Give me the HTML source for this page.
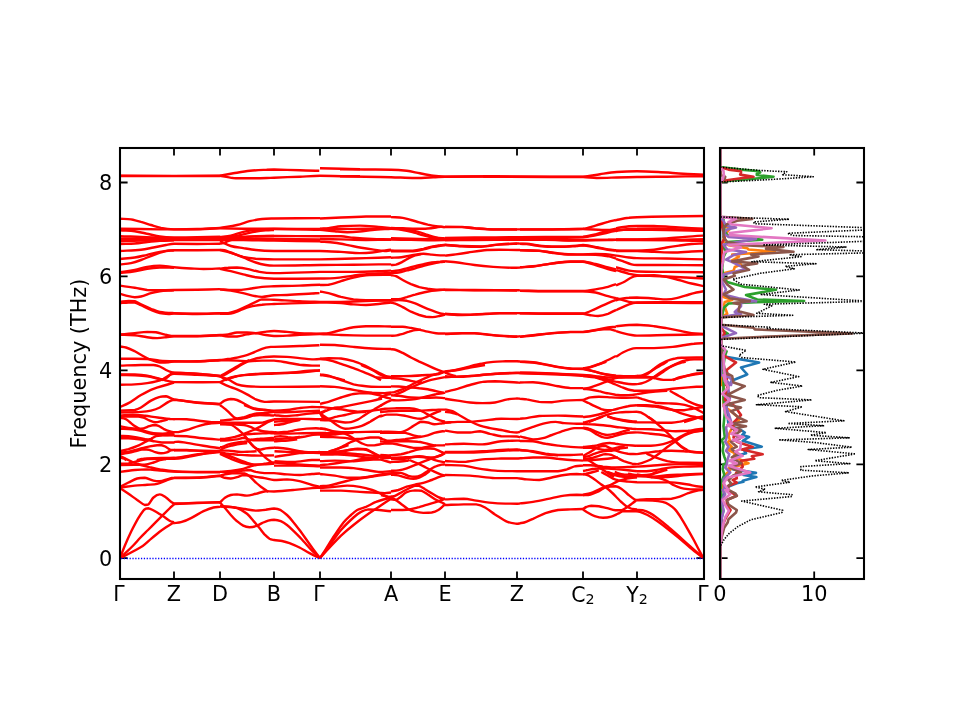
<!DOCTYPE html>
<html lang="en"><head><meta charset="utf-8"><title>Phonon band structure and DOS</title>
<style>html,body{margin:0;padding:0;background:#fff}svg{display:block;will-change:transform}</style></head>
<body>
<svg width="960" height="720" viewBox="0 0 960 720">
<rect width="960" height="720" fill="#fff"/>
<defs><clipPath id="c1"><rect x="120" y="148" width="584" height="431"/></clipPath><clipPath id="c2"><rect x="720" y="148" width="144" height="431"/></clipPath></defs>
<path d="M120 579 v-7.6 M120 148 v7.6 M174 579 v-7.6 M174 148 v7.6 M220 579 v-7.6 M220 148 v7.6 M274 579 v-7.6 M274 148 v7.6 M320 579 v-7.6 M320 148 v7.6 M391 579 v-7.6 M391 148 v7.6 M445 579 v-7.6 M445 148 v7.6 M517 579 v-7.6 M517 148 v7.6 M583 579 v-7.6 M583 148 v7.6 M637 579 v-7.6 M637 148 v7.6 M704 579 v-7.6 M704 148 v7.6 M120 558.2 h7.6 M704 558.2 h-7.6 M720 558.2 h7.6 M864 558.2 h-7.6 M120 464.3 h7.6 M704 464.3 h-7.6 M720 464.3 h7.6 M864 464.3 h-7.6 M120 370.4 h7.6 M704 370.4 h-7.6 M720 370.4 h7.6 M864 370.4 h-7.6 M120 276.4 h7.6 M704 276.4 h-7.6 M720 276.4 h7.6 M864 276.4 h-7.6 M120 182.5 h7.6 M704 182.5 h-7.6 M720 182.5 h7.6 M864 182.5 h-7.6 M720.0 579 v-7.6 M720.0 148 v7.6 M814.2 579 v-7.6 M814.2 148 v7.6" stroke="#000" stroke-width="1.8" fill="none"/>
<g clip-path="url(#c1)" fill="none" stroke="#ff0000" stroke-width="2.4" stroke-linejoin="round" stroke-linecap="butt">
<path d="M120.0 218.8 C123.7 219.0 127.3 218.8 131.0 219.4 C134.3 219.9 137.7 220.9 141.0 221.9 C144.3 222.8 147.7 224.0 151.0 225.0 C154.3 226.0 157.7 227.2 161.0 227.9 C165.3 228.7 169.7 229.2 174.0 229.4 C181.8 229.4 189.5 229.3 197.2 229.0 C204.8 228.8 212.4 228.2 220.0 227.9"/>
<path d="M120.0 228.8 C127.0 228.8 134.0 228.9 141.0 229.0 C147.2 229.1 153.5 229.3 159.8 229.4 C164.5 229.4 169.2 229.4 174.0 229.4 C181.8 229.3 189.5 229.4 197.2 229.2 C204.8 229.1 212.4 228.6 220.0 228.2"/>
<path d="M120.0 230.2 C124.9 230.6 129.8 230.6 134.8 231.2 C138.9 231.8 143.1 232.9 147.2 233.8 C151.4 234.6 155.6 235.9 159.8 236.5 C164.5 237.2 169.2 237.4 174.0 237.5 C181.8 237.5 189.5 237.4 197.2 237.2 C204.8 237.1 212.4 236.9 220.0 236.8"/>
<path d="M120.0 236.2 C127.0 236.5 134.0 236.6 141.0 236.9 C147.2 237.1 153.5 237.5 159.8 237.8 C164.5 238.0 169.2 238.3 174.0 238.4 C181.8 238.4 189.5 238.4 197.2 238.2 C204.8 238.1 212.4 237.9 220.0 237.8"/>
<path d="M120.0 238.8 C127.0 238.8 134.0 238.8 141.0 238.8 C147.2 238.8 153.5 238.9 159.8 239.0 C164.5 239.1 169.2 239.2 174.0 239.2 C181.8 239.2 189.5 239.2 197.2 239.2 C204.8 239.2 212.4 239.1 220.0 239.0"/>
<path d="M120.0 241.2 C127.0 241.0 134.0 240.8 141.0 240.6 C147.2 240.4 153.5 240.1 159.8 240.0 C164.5 240.0 169.2 240.0 174.0 240.0 C181.8 240.0 189.5 240.0 197.2 240.0 C204.8 240.0 212.4 240.0 220.0 240.0"/>
<path d="M120.0 244.0 C124.9 243.8 129.8 243.9 134.8 243.5 C138.9 243.2 143.1 242.5 147.2 242.0 C151.4 241.5 155.6 241.0 159.8 240.8 C164.5 240.5 169.2 240.5 174.0 240.4"/>
<path d="M120.0 251.0 C127.0 250.6 134.0 250.5 141.0 249.8 C145.2 249.3 149.3 248.3 153.5 247.5 C157.7 246.7 161.8 245.8 166.0 245.0 C168.7 244.5 171.3 243.8 174.0 243.8 C181.8 243.8 189.5 244.0 197.2 244.0 C204.8 244.0 212.4 243.8 220.0 243.8"/>
<path d="M120.0 259.0 C124.9 258.5 129.8 258.3 134.8 257.5 C138.9 256.9 143.1 255.7 147.2 254.8 C151.4 253.8 155.6 252.6 159.8 251.9 C164.5 251.1 169.2 250.3 174.0 250.1 C181.8 250.1 189.5 250.2 197.2 250.2 C204.8 250.2 212.4 250.1 220.0 250.0"/>
<path d="M120.0 264.4 C123.7 264.0 127.3 263.9 131.0 263.1 C134.3 262.4 137.7 261.2 141.0 260.0 C145.2 258.5 149.3 256.5 153.5 255.0 C157.7 253.5 161.8 252.2 166.0 251.2 C168.7 250.6 171.3 250.6 174.0 250.2"/>
<path d="M120.0 272.2 C124.9 271.5 129.8 271.0 134.8 270.0 C138.9 269.2 143.1 267.6 147.2 266.9 C151.4 266.1 155.6 265.6 159.8 265.6 C164.5 265.7 169.2 266.8 174.0 267.2 C179.7 267.8 185.3 268.2 191.0 268.5 C195.2 268.7 199.3 269.0 203.5 269.0 C209.0 269.0 214.5 268.7 220.0 268.5"/>
<path d="M120.0 273.1 C124.9 272.5 129.8 272.0 134.8 271.2 C138.9 270.6 143.1 269.4 147.2 268.8 C151.4 268.1 155.6 267.7 159.8 267.5 C164.5 267.5 169.2 267.7 174.0 267.8"/>
<path d="M120.0 285.6 C124.9 286.3 129.8 287.0 134.8 287.8 C138.9 288.4 143.1 289.6 147.2 290.0 C151.4 290.2 155.6 290.2 159.8 290.2 C164.5 290.2 169.2 290.1 174.0 290.0 C181.8 289.9 189.5 289.9 197.2 289.8 C204.8 289.6 212.4 289.3 220.0 289.1"/>
<path d="M120.0 293.8 C122.8 294.6 125.7 295.6 128.5 296.2 C130.6 296.7 132.7 297.2 134.8 297.2 C136.8 297.2 138.9 297.0 141.0 296.5 C144.3 295.7 147.7 294.1 151.0 293.1 C153.9 292.3 156.8 291.6 159.8 291.2 C164.5 290.7 169.2 290.6 174.0 290.2"/>
<path d="M220.0 227.9 C225.7 226.9 231.3 226.3 237.0 225.0 C241.2 224.1 245.3 222.2 249.5 221.2 C253.7 220.2 257.8 219.5 262.0 219.0 C266.0 218.6 270.0 218.6 274.0 218.5 C289.3 218.3 304.7 218.2 320.0 218.1"/>
<path d="M220.0 228.4 C227.8 228.5 235.5 228.7 243.2 228.8 C253.5 228.8 263.8 228.8 274.0 228.8 C289.3 228.8 304.7 228.9 320.0 229.0"/>
<path d="M220.0 236.9 C223.6 236.5 227.2 236.4 230.8 235.6 C234.9 234.7 239.1 232.9 243.2 231.9 C247.4 230.9 251.6 230.1 255.8 229.8 C261.8 229.2 267.9 229.0 274.0 229.0 C289.3 229.0 304.7 229.5 320.0 229.8"/>
<path d="M220.0 237.8 C223.6 237.5 227.2 237.4 230.8 236.9 C234.9 236.3 239.1 235.3 243.2 234.4 C247.4 233.5 251.6 232.2 255.8 231.5 C259.1 230.9 262.4 230.6 265.8 230.4 C268.5 230.1 271.2 230.1 274.0 230.0"/>
<path d="M220.0 238.8 C227.8 238.1 235.5 237.3 243.2 236.9 C253.5 236.4 263.8 236.1 274.0 236.0 C289.3 236.0 304.7 236.2 320.0 236.2"/>
<path d="M220.0 239.4 C227.8 239.2 235.5 239.1 243.2 239.0 C253.5 239.0 263.8 239.0 274.0 239.0 C289.3 239.1 304.7 239.2 320.0 239.4"/>
<path d="M220.0 240.0 C227.8 240.0 235.5 240.0 243.2 240.0 C253.5 240.1 263.8 240.5 274.0 240.6 C289.3 240.9 304.7 241.0 320.0 241.2"/>
<path d="M220.0 243.8 C221.5 243.4 223.0 243.3 224.5 242.8 C226.6 242.0 228.7 240.6 230.8 240.0 C234.9 238.8 239.1 237.9 243.2 237.2 C247.4 236.6 251.6 236.4 255.8 236.2 C261.8 236.0 267.9 236.1 274.0 236.0"/>
<path d="M220.0 241.2 C223.6 242.8 227.2 244.9 230.8 246.0 C234.9 247.2 239.1 247.5 243.2 248.1 C247.4 248.8 251.6 249.6 255.8 250.0 C261.8 250.6 267.9 250.9 274.0 251.0 C289.3 251.0 304.7 251.0 320.0 251.0"/>
<path d="M220.0 250.0 C221.5 250.1 223.0 250.0 224.5 250.2 C226.6 250.7 228.7 251.8 230.8 252.5 C234.9 254.0 239.1 255.8 243.2 256.9 C247.4 257.9 251.6 258.4 255.8 258.8 C261.8 259.2 267.9 259.3 274.0 259.4 C289.3 259.4 304.7 259.4 320.0 259.4"/>
<path d="M220.0 250.0 C223.6 250.9 227.2 251.6 230.8 252.8 C234.9 254.1 239.1 255.9 243.2 257.5 C247.4 259.1 251.6 261.1 255.8 262.5 C259.1 263.6 262.4 264.4 265.8 265.0 C268.5 265.5 271.2 265.6 274.0 265.6 C289.3 265.6 304.7 265.2 320.0 265.0"/>
<path d="M220.0 268.8 C222.8 268.4 225.5 268.0 228.2 267.8 C231.2 267.5 234.1 267.5 237.0 267.5 C240.3 267.7 243.7 268.1 247.0 268.8 C251.2 269.6 255.3 271.2 259.5 271.9 C264.3 272.7 269.2 273.1 274.0 273.1 C289.3 273.1 304.7 272.3 320.0 271.9"/>
<path d="M220.0 268.8 C223.6 269.6 227.2 270.4 230.8 271.2 C234.9 272.3 239.1 273.4 243.2 274.4 C247.4 275.4 251.6 276.7 255.8 277.2 C261.8 278.1 267.9 278.6 274.0 278.8 C289.3 278.8 304.7 278.6 320.0 278.5"/>
<path d="M220.0 289.4 C225.7 289.6 231.3 290.0 237.0 290.0 C241.2 289.9 245.3 289.3 249.5 288.8 C253.7 288.2 257.8 287.3 262.0 286.9 C266.0 286.5 270.0 286.4 274.0 286.2 C282.5 286.0 291.0 285.9 299.5 285.6 C303.7 285.5 307.8 285.2 312.0 285.0 C314.7 284.9 317.3 284.8 320.0 284.8"/>
<path d="M220.0 289.4 C223.6 289.8 227.2 290.0 230.8 290.6 C234.9 291.3 239.1 292.2 243.2 293.1 C247.4 294.1 251.6 295.4 255.8 296.2 C257.8 296.7 259.9 296.9 262.0 296.9 C266.0 296.7 270.0 295.6 274.0 295.2 C278.3 295.0 282.7 295.2 287.0 295.0 C295.3 294.6 303.7 294.0 312.0 293.5 C314.5 293.4 317.0 293.2 319.5 293.1"/>
<path d="M320.0 218.5 C327.0 218.2 334.0 217.8 341.0 217.5 C349.3 217.1 357.7 216.7 366.0 216.5 C374.3 216.5 382.7 216.5 391.0 216.5"/>
<path d="M320.0 228.8 C322.8 228.5 325.7 228.5 328.5 228.1 C332.7 227.6 336.8 226.6 341.0 226.2 C347.2 225.8 353.5 225.6 359.8 225.6 C366.0 225.7 372.2 226.4 378.5 226.9 C382.7 227.2 386.8 227.7 391.0 228.1"/>
<path d="M320.0 229.8 C324.9 230.2 329.8 230.8 334.8 231.2 C338.9 231.6 343.1 232.2 347.2 232.2 C351.4 232.2 355.6 231.9 359.8 231.5 C363.9 231.1 368.1 230.4 372.2 230.0 C378.5 229.4 384.8 229.2 391.0 228.8"/>
<path d="M320.0 229.0 C327.0 229.0 334.0 229.0 341.0 229.0 C349.3 229.0 357.7 228.8 366.0 228.8 C374.3 228.8 382.7 228.8 391.0 228.8"/>
<path d="M320.0 236.2 C327.0 236.2 334.0 236.2 341.0 236.2 C345.2 236.4 349.3 237.4 353.5 237.8 C359.8 238.3 366.0 238.7 372.2 239.0 C378.5 239.3 384.8 239.2 391.0 239.4"/>
<path d="M320.0 239.0 C327.0 239.1 334.0 239.2 341.0 239.4 C349.3 239.6 357.7 239.9 366.0 240.0 C374.3 240.0 382.7 239.8 391.0 239.8"/>
<path d="M320.0 241.5 C324.9 241.9 329.8 242.1 334.8 242.8 C341.0 243.6 347.2 245.1 353.5 246.2 C359.8 247.4 366.0 248.4 372.2 249.4 C376.4 250.0 380.6 250.8 384.8 251.0 C386.8 251.0 388.9 250.5 391.0 250.2"/>
<path d="M320.0 251.0 C327.0 251.3 334.0 251.5 341.0 251.9 C347.2 252.2 353.5 253.0 359.8 253.1 C363.9 253.1 368.1 252.9 372.2 252.5 C376.4 252.1 380.6 251.2 384.8 250.6 C386.8 250.3 388.9 250.0 391.0 249.8"/>
<path d="M320.0 259.4 C331.2 259.1 342.3 258.8 353.5 258.5 C361.8 258.3 370.2 258.0 378.5 257.8 C382.7 257.6 386.8 257.4 391.0 257.2"/>
<path d="M320.0 265.0 C331.2 264.9 342.3 264.9 353.5 264.8 C361.8 264.7 370.2 264.5 378.5 264.4 C382.7 264.4 386.8 264.4 391.0 264.4"/>
<path d="M320.0 271.9 C331.2 271.9 342.3 271.9 353.5 271.9 C361.8 271.8 370.2 271.5 378.5 271.2 C382.7 271.1 386.8 270.8 391.0 270.6"/>
<path d="M320.0 278.5 C324.9 278.4 329.8 278.5 334.8 278.1 C341.0 277.6 347.2 276.4 353.5 275.6 C359.8 274.9 366.0 274.2 372.2 273.8 C378.5 273.3 384.8 273.3 391.0 273.1"/>
<path d="M320.0 285.0 C322.8 284.9 325.7 285.0 328.5 284.8 C332.7 284.0 336.8 282.5 341.0 281.2 C345.2 280.0 349.3 278.5 353.5 277.5 C357.7 276.5 361.8 275.6 366.0 275.2 C374.3 274.8 382.7 274.9 391.0 274.8"/>
<path d="M320.0 291.5 C322.8 292.0 325.7 292.4 328.5 293.1 C332.7 294.2 336.8 295.8 341.0 296.9 C345.2 297.9 349.3 298.8 353.5 299.4 C357.7 299.9 361.8 300.2 366.0 300.2 C374.3 300.2 382.7 300.2 391.0 300.2"/>
<path d="M445.0 226.9 C450.7 226.9 456.3 226.9 462.0 226.9 C466.2 227.1 470.3 227.8 474.5 228.1 C480.8 228.6 487.0 229.2 493.2 229.4 C501.2 229.4 509.1 229.4 517.0 229.4 C518.0 229.4 519.0 229.4 520.0 229.4"/>
<path d="M445.0 227.0 C450.7 227.0 456.3 227.0 462.0 227.1 C466.2 227.3 470.3 228.1 474.5 228.4 C480.8 228.8 487.0 229.3 493.2 229.5 C501.2 229.5 509.1 229.5 517.0 229.5"/>
<path d="M445.0 238.0 C454.8 237.8 464.7 237.6 474.5 237.5 C488.7 237.4 502.8 237.3 517.0 237.2 C518.0 237.2 519.0 237.2 520.0 237.2"/>
<path d="M445.0 238.5 C454.8 238.4 464.7 238.3 474.5 238.2 C488.7 238.2 502.8 238.1 517.0 238.0 C518.0 238.0 519.0 238.0 520.0 238.0"/>
<path d="M445.0 239.4 C454.8 239.2 464.7 239.1 474.5 239.0 C488.7 239.0 502.8 239.0 517.0 239.0 C518.0 239.0 519.0 239.0 520.0 238.9"/>
<path d="M445.0 240.2 C454.8 240.2 464.7 240.1 474.5 240.0 C488.7 239.9 502.8 239.8 517.0 239.8 C518.0 239.8 519.0 239.8 520.0 239.8"/>
<path d="M445.0 244.8 C450.7 245.2 456.3 245.7 462.0 246.0 C468.2 246.3 474.5 246.5 480.8 246.5 C487.0 246.2 493.2 244.9 499.5 244.4 C505.3 243.9 511.2 243.7 517.0 243.5 C518.0 243.5 519.0 243.6 520.0 243.6"/>
<path d="M445.0 245.0 C450.7 245.4 456.3 246.0 462.0 246.2 C468.2 246.6 474.5 246.8 480.8 246.8 C487.0 246.5 493.2 245.1 499.5 244.6 C505.3 244.1 511.2 244.0 517.0 243.8"/>
<path d="M445.0 255.6 C448.6 255.2 452.2 254.9 455.8 254.4 C459.9 253.8 464.1 253.1 468.2 252.5 C474.5 251.6 480.8 250.6 487.0 250.0 C491.2 249.8 495.3 249.8 499.5 249.8 C505.3 249.8 511.2 249.9 517.0 250.0 C518.0 250.0 519.0 250.0 520.0 250.0"/>
<path d="M445.0 261.2 C448.6 261.6 452.2 261.8 455.8 262.2 C462.0 263.0 468.2 264.2 474.5 265.0 C480.8 265.8 487.0 266.4 493.2 266.9 C499.5 267.3 505.8 267.6 512.0 267.8 C514.7 267.8 517.3 267.6 520.0 267.6"/>
<path d="M445.0 289.8 C454.8 289.8 464.7 289.9 474.5 290.0 C488.7 290.1 502.8 290.1 517.0 290.2 C518.0 290.3 519.0 290.3 520.0 290.4"/>
<path d="M445.0 290.0 C454.8 290.1 464.7 290.2 474.5 290.2 C488.7 290.3 502.8 290.4 517.0 290.5"/>
<path d="M520.0 229.4 C528.5 229.4 537.0 229.4 545.5 229.4 C558.0 229.3 570.5 229.4 583.0 228.8 C587.2 228.4 591.3 226.8 595.5 225.6 C599.7 224.5 603.8 223.0 608.0 221.9 C610.7 221.1 613.3 220.6 616.0 220.0"/>
<path d="M520.0 229.5 C528.5 229.5 537.0 229.5 545.5 229.5 C558.0 229.4 570.5 229.0 583.0 229.0 C589.2 229.1 595.5 229.8 601.8 230.0 C606.5 230.0 611.2 230.0 616.0 230.0"/>
<path d="M520.0 237.1 C528.5 237.0 537.0 236.9 545.5 236.9 C558.0 236.8 570.5 236.9 583.0 236.6 C587.2 236.4 591.3 235.4 595.5 234.4 C599.7 233.4 603.8 231.8 608.0 230.6 C610.7 229.9 613.3 229.3 616.0 228.6"/>
<path d="M520.0 238.0 C528.5 237.9 537.0 237.9 545.5 237.8 C558.0 237.6 570.5 237.8 583.0 237.2 C587.2 237.0 591.3 236.0 595.5 235.2 C599.7 234.5 603.8 233.4 608.0 232.5 C610.7 231.9 613.3 231.4 616.0 230.9"/>
<path d="M520.0 239.1 C528.5 239.2 537.0 239.1 545.5 239.4 C553.8 239.6 562.2 240.3 570.5 240.6 C574.7 240.6 578.8 240.6 583.0 240.6 C587.2 240.5 591.3 240.1 595.5 240.0 C599.7 239.9 603.8 239.8 608.0 239.8 C610.7 239.7 613.3 239.7 616.0 239.6"/>
<path d="M520.0 239.9 C528.5 239.9 537.0 239.8 545.5 239.8 C553.8 239.8 562.2 240.2 570.5 240.2 C574.7 240.2 578.8 240.0 583.0 240.0 C591.3 240.0 599.7 240.0 608.0 240.0 C610.7 240.0 613.3 239.9 616.0 239.9"/>
<path d="M520.0 243.6 C522.2 243.6 524.5 243.6 526.8 243.8 C530.9 244.2 535.1 245.2 539.2 245.6 C543.4 246.1 547.6 246.4 551.8 246.5 C555.9 246.5 560.1 246.5 564.2 246.5 C568.4 246.4 572.6 246.0 576.8 245.6 C578.8 245.5 580.9 245.0 583.0 245.0 C587.2 245.3 591.3 246.1 595.5 246.9 C599.7 247.6 603.8 248.7 608.0 249.4 C610.7 249.8 613.3 249.9 616.0 250.2"/>
<path d="M520.0 243.9 C522.2 244.0 524.5 243.9 526.8 244.1 C530.9 244.6 535.1 245.5 539.2 246.0 C543.4 246.5 547.6 246.7 551.8 246.9 C555.9 246.9 560.1 246.9 564.2 246.9 C568.4 246.7 572.6 246.3 576.8 246.0 C578.8 245.8 580.9 245.4 583.0 245.4 C587.2 245.7 591.3 246.8 595.5 247.5 C599.7 248.2 603.8 249.1 608.0 249.8 C610.7 250.1 613.3 250.3 616.0 250.6"/>
<path d="M520.0 250.1 C526.4 250.3 532.8 250.1 539.2 250.6 C543.4 250.9 547.6 251.9 551.8 252.5 C555.9 253.1 560.1 253.7 564.2 254.0 C568.4 254.3 572.6 254.3 576.8 254.4 C578.8 254.4 580.9 254.4 583.0 254.4 C587.2 254.3 591.3 254.0 595.5 254.0 C599.7 254.0 603.8 254.0 608.0 254.4 C610.7 254.6 613.3 255.3 616.0 255.7"/>
<path d="M520.0 250.3 C526.4 250.5 532.8 250.4 539.2 250.9 C543.4 251.2 547.6 252.2 551.8 252.8 C555.9 253.3 560.1 253.9 564.2 254.2 C568.4 254.6 572.6 254.5 576.8 254.6 C578.8 254.6 580.9 254.6 583.0 254.6 C587.2 254.7 591.3 254.6 595.5 254.8 C599.7 255.0 603.8 255.5 608.0 256.2 C610.7 256.8 613.3 257.8 616.0 258.6"/>
<path d="M520.0 267.3 C524.3 266.9 528.7 266.7 533.0 266.2 C537.2 265.8 541.3 265.0 545.5 264.4 C549.7 263.8 553.8 263.0 558.0 262.5 C562.2 262.0 566.3 261.7 570.5 261.5 C574.7 261.5 578.8 261.5 583.0 261.5 C587.2 261.9 591.3 263.0 595.5 264.0 C599.7 265.0 603.8 266.4 608.0 267.5 C610.7 268.2 613.3 268.8 616.0 269.5"/>
<path d="M520.0 267.4 C524.3 267.1 528.7 267.0 533.0 266.5 C537.2 266.0 541.3 265.2 545.5 264.6 C549.7 264.0 553.8 263.2 558.0 262.8 C562.2 262.3 566.3 261.9 570.5 261.8 C574.7 261.8 578.8 261.8 583.0 261.8 C587.2 262.3 591.3 263.8 595.5 265.0 C599.7 266.2 603.8 267.7 608.0 269.0 C610.7 269.8 613.3 270.5 616.0 271.2"/>
<path d="M520.0 290.7 C528.5 290.8 537.0 291.0 545.5 291.0 C558.0 291.0 570.5 291.0 583.0 291.0 C587.2 290.9 591.3 290.1 595.5 289.4 C599.7 288.7 603.8 288.0 608.0 286.9 C610.7 286.2 613.3 285.0 616.0 284.1"/>
<path d="M520.0 290.9 C528.5 291.0 537.0 291.2 545.5 291.2 C558.0 291.2 570.5 291.2 583.0 291.2 C587.2 291.4 591.3 291.7 595.5 292.5 C599.7 293.3 603.8 295.1 608.0 296.2 C610.7 297.0 613.3 297.6 616.0 298.2"/>
<path d="M616.0 220.1 C616.2 220.1 616.3 220.0 616.5 220.0 C620.7 219.2 624.8 218.3 629.0 217.8 C631.7 217.4 634.3 217.3 637.0 217.2 C646.8 216.9 656.7 216.7 666.5 216.5 C679.0 216.3 691.5 216.2 704.0 216.0"/>
<path d="M616.0 228.2 C616.2 228.2 616.3 228.2 616.5 228.1 C620.7 227.5 624.8 226.7 629.0 226.2 C631.7 226.0 634.3 226.0 637.0 226.0 C642.7 226.0 648.3 226.0 654.0 226.0 C662.3 226.3 670.7 227.0 679.0 227.5 C687.3 228.0 695.7 228.3 704.0 228.8"/>
<path d="M616.0 231.1 C616.2 231.1 616.3 231.0 616.5 231.0 C620.7 230.3 624.8 229.5 629.0 229.0 C631.7 228.8 634.3 228.8 637.0 228.8 C642.7 228.6 648.3 228.5 654.0 228.5 C662.3 228.6 670.7 229.0 679.0 229.4 C687.3 229.7 695.7 230.2 704.0 230.6"/>
<path d="M616.0 229.8 C618.2 229.8 620.5 229.8 622.8 229.8 C627.5 229.8 632.2 229.8 637.0 229.8 C646.8 229.8 656.7 229.9 666.5 230.0 C679.0 230.2 691.5 230.5 704.0 230.8"/>
<path d="M616.0 239.4 C623.0 239.4 630.0 239.4 637.0 239.4 C646.8 239.2 656.7 239.0 666.5 238.5 C672.8 238.2 679.0 237.4 685.2 236.9 C691.5 236.4 697.8 236.0 704.0 235.6"/>
<path d="M616.0 240.0 C623.0 240.0 630.0 240.0 637.0 240.0 C646.8 240.0 656.7 240.0 666.5 240.0 C679.0 239.9 691.5 239.5 704.0 239.2"/>
<path d="M616.0 239.8 C623.0 239.8 630.0 239.8 637.0 239.8 C646.8 239.8 656.7 239.8 666.5 240.0 C672.8 240.1 679.0 240.5 685.2 240.6 C691.5 240.8 697.8 240.9 704.0 241.0"/>
<path d="M616.0 250.4 C618.2 250.5 620.5 250.6 622.8 250.6 C627.5 250.6 632.2 250.6 637.0 250.6 C642.7 250.5 648.3 250.4 654.0 249.8 C658.2 249.3 662.3 248.2 666.5 247.5 C670.7 246.8 674.8 246.2 679.0 245.6 C683.2 245.0 687.3 244.4 691.5 244.0 C695.7 243.6 699.8 243.7 704.0 243.5"/>
<path d="M616.0 251.0 C623.0 251.0 630.0 251.0 637.0 251.0 C642.7 251.1 648.3 251.6 654.0 251.9 C660.2 252.1 666.5 252.5 672.8 252.5 C679.0 252.4 685.2 251.8 691.5 251.5 C695.7 251.3 699.8 251.2 704.0 251.0"/>
<path d="M616.0 255.6 C616.2 255.6 616.3 255.6 616.5 255.6 C620.7 256.2 624.8 257.0 629.0 257.5 C631.7 257.8 634.3 258.1 637.0 258.1 C646.8 258.4 656.7 258.3 666.5 258.5 C679.0 258.7 691.5 259.1 704.0 259.4"/>
<path d="M616.0 258.8 C618.2 259.6 620.5 260.4 622.8 261.2 C625.7 262.3 628.6 263.6 631.5 264.4 C633.3 264.9 635.2 265.0 637.0 265.0 C646.8 265.0 656.7 265.0 666.5 265.0 C679.0 265.0 691.5 265.2 704.0 265.2"/>
<path d="M616.0 267.4 C616.2 267.4 616.3 267.5 616.5 267.5 C620.7 268.5 624.8 269.8 629.0 270.6 C631.7 271.1 634.3 271.4 637.0 271.5 C646.8 271.8 656.7 271.8 666.5 271.9 C679.0 272.0 691.5 272.1 704.0 272.2"/>
<path d="M616.0 270.1 C616.2 270.2 616.3 270.2 616.5 270.2 C620.7 271.4 624.8 272.7 629.0 273.8 C631.7 274.4 634.3 275.0 637.0 275.2 C642.7 275.8 648.3 275.8 654.0 276.0 C658.2 276.2 662.3 276.3 666.5 276.5 C672.8 276.8 679.0 277.2 685.2 277.5 C691.5 277.8 697.8 278.2 704.0 278.5"/>
<path d="M616.0 285.4 C618.2 284.4 620.5 283.6 622.8 282.5 C625.7 281.0 628.6 278.9 631.5 277.5 C633.3 276.6 635.2 276.1 637.0 275.9 C642.7 275.3 648.3 275.2 654.0 275.2 C658.2 275.4 662.3 276.1 666.5 276.9 C670.7 277.7 674.8 278.9 679.0 280.0 C683.2 281.1 687.3 282.5 691.5 283.5 C695.7 284.5 699.8 285.3 704.0 286.2"/>
<path d="M120.0 301.9 C122.8 301.6 125.7 301.1 128.5 301.0 C130.6 301.0 132.7 301.0 134.8 301.2 C136.8 301.8 138.9 303.4 141.0 304.4 C144.3 305.9 147.7 307.4 151.0 308.8 C153.9 309.9 156.8 311.3 159.8 311.9 C164.5 312.8 169.2 312.9 174.0 313.1 C181.8 313.5 189.5 313.8 197.2 313.8 C204.8 313.8 212.4 313.3 220.0 313.1"/>
<path d="M120.0 303.1 C122.8 302.9 125.7 302.6 128.5 302.5 C130.6 302.5 132.7 302.5 134.8 302.5 C136.8 303.0 138.9 304.3 141.0 305.2 C144.3 306.8 147.7 308.6 151.0 310.0 C153.9 311.2 156.8 312.5 159.8 313.1 C162.7 313.8 165.6 313.9 168.5 314.0 C170.3 314.0 172.2 313.5 174.0 313.5 C181.8 313.5 189.5 314.0 197.2 314.0 C204.8 314.0 212.4 313.7 220.0 313.5"/>
<path d="M120.0 334.4 C124.9 334.0 129.8 333.6 134.8 333.1 C138.9 332.7 143.1 332.0 147.2 331.9 C150.2 331.9 153.1 331.9 156.0 332.2 C159.3 332.8 162.7 334.1 166.0 334.8 C168.7 335.3 171.3 335.9 174.0 336.0 C181.8 336.0 189.5 336.0 197.2 336.0 C204.8 335.8 212.4 335.3 220.0 335.0"/>
<path d="M120.0 334.8 C124.9 334.9 129.8 334.8 134.8 335.2 C138.9 335.6 143.1 336.7 147.2 337.2 C150.6 337.7 153.9 338.1 157.2 338.1 C160.2 338.1 163.1 337.6 166.0 337.2 C168.7 337.0 171.3 336.3 174.0 336.2 C181.8 336.2 189.5 336.2 197.2 336.2 C204.8 336.1 212.4 335.6 220.0 335.2"/>
<path d="M120.0 346.5 C122.0 346.8 124.0 346.9 126.0 347.5 C128.9 348.4 131.8 349.8 134.8 351.2 C137.7 352.7 140.6 354.7 143.5 356.2 C146.0 357.6 148.5 359.0 151.0 360.0 C153.9 361.1 156.8 362.1 159.8 362.5 C162.7 362.5 165.6 362.5 168.5 362.2 C170.3 362.1 172.2 361.6 174.0 361.5 C181.8 361.2 189.5 361.5 197.2 361.2 C204.8 361.0 212.4 360.4 220.0 360.0"/>
<path d="M120.0 358.8 C124.9 358.8 129.8 358.8 134.8 358.8 C138.9 358.8 143.1 358.8 147.2 359.0 C151.4 359.3 155.6 360.3 159.8 360.6 C164.5 361.0 169.2 361.1 174.0 361.2 C181.8 361.4 189.5 361.5 197.2 361.5 C204.8 361.3 212.4 360.7 220.0 360.2"/>
<path d="M120.0 365.6 C127.0 365.4 134.0 365.1 141.0 365.0 C145.2 365.0 149.3 365.0 153.5 365.0 C155.6 365.2 157.7 365.7 159.8 366.5 C161.8 367.3 163.9 369.0 166.0 370.0 C168.1 371.0 170.2 371.8 172.2 372.5 C172.8 372.7 173.4 372.7 174.0 372.8 C181.8 373.1 189.5 373.2 197.2 373.8 C204.8 374.3 212.4 375.2 220.0 376.0"/>
<path d="M120.0 375.0 C124.9 375.1 129.8 375.0 134.8 375.2 C138.9 375.4 143.1 375.6 147.2 376.2 C150.6 376.7 153.9 377.7 157.2 378.5 C159.3 379.0 161.4 379.7 163.5 380.2"/>
<path d="M163.5 380.2 C165.2 378.9 166.8 377.6 168.5 376.2 C169.8 375.2 171.0 373.8 172.2 373.0 C172.8 372.8 173.4 372.8 174.0 372.8 C181.8 373.1 189.5 373.4 197.2 374.0 C204.8 374.6 212.4 375.5 220.0 376.2"/>
<path d="M220.0 313.1 C222.8 313.1 225.5 313.1 228.2 313.1 C231.2 312.7 234.1 311.7 237.0 310.6 C240.3 309.4 243.7 307.8 247.0 306.2 C249.9 304.9 252.8 303.2 255.8 301.9 C257.8 300.9 259.9 299.6 262.0 299.4 C266.0 299.4 270.0 299.6 274.0 299.8 C282.5 300.2 291.0 300.9 299.5 301.2 C306.3 301.6 313.2 301.7 320.0 301.9"/>
<path d="M220.0 313.8 C223.6 313.7 227.2 313.8 230.8 313.5 C233.7 313.0 236.6 311.7 239.5 310.6 C242.8 309.4 246.2 307.7 249.5 306.9 C253.7 305.8 257.8 305.2 262.0 304.8 C266.0 304.3 270.0 304.2 274.0 304.0 C282.5 303.6 291.0 303.4 299.5 303.1 C306.3 302.9 313.2 302.7 320.0 302.5"/>
<path d="M220.0 335.0 C222.8 334.8 225.5 334.8 228.2 334.4 C231.2 333.9 234.1 332.8 237.0 332.5 C240.3 332.5 243.7 332.5 247.0 332.5 C249.9 332.6 252.8 333.1 255.8 333.1 C258.7 333.0 261.6 332.2 264.5 331.9 C267.7 331.5 270.8 331.0 274.0 331.0 C278.3 331.0 282.7 331.5 287.0 331.9 C291.2 332.2 295.3 332.9 299.5 333.1 C306.3 333.5 313.2 333.5 320.0 333.8"/>
<path d="M220.0 335.2 C222.8 335.7 225.5 336.3 228.2 336.5 C231.2 336.5 234.1 336.5 237.0 336.5 C240.3 336.1 243.7 335.0 247.0 334.4 C249.9 333.9 252.8 333.1 255.8 333.1 C258.7 333.2 261.6 334.3 264.5 334.8 C267.7 335.2 270.8 335.9 274.0 336.0 C278.3 336.0 282.7 335.8 287.0 335.6 C291.2 335.4 295.3 335.0 299.5 334.8 C306.3 334.4 313.2 334.2 320.0 334.0"/>
<path d="M220.0 360.0 C223.6 359.6 227.2 359.3 230.8 358.8 C234.9 358.1 239.1 357.4 243.2 356.2 C246.2 355.5 249.1 354.3 252.0 353.1 C255.3 351.8 258.7 349.9 262.0 348.8 C264.9 347.8 267.8 347.3 270.8 346.9 C271.8 346.9 272.9 346.9 274.0 346.9 C282.5 346.6 291.0 346.3 299.5 346.0 C306.2 345.8 312.8 345.5 319.5 345.2"/>
<path d="M220.0 360.2 C225.7 360.4 231.3 360.4 237.0 360.6 C241.2 360.8 245.3 361.2 249.5 361.2 C253.7 361.2 257.8 360.7 262.0 360.6 C266.0 360.6 270.0 360.6 274.0 360.6 C278.3 360.9 282.7 361.8 287.0 362.5 C291.2 363.2 295.3 364.2 299.5 364.8 C303.7 365.3 307.8 365.4 312.0 365.6 C314.7 365.6 317.3 365.6 320.0 365.6"/>
<path d="M220.0 376.2 C221.5 375.8 223.0 375.7 224.5 375.0 C226.6 374.0 228.7 372.5 230.8 371.2 C234.9 368.8 239.1 366.1 243.2 363.8 C245.3 362.6 247.4 361.4 249.5 360.6 C252.8 359.4 256.2 358.3 259.5 357.8 C264.3 356.9 269.2 356.7 274.0 356.5 C278.3 356.5 282.7 356.6 287.0 356.9 C291.2 357.1 295.3 357.7 299.5 358.1 C303.7 358.5 307.8 359.2 312.0 359.4 C314.7 359.4 317.3 359.1 320.0 359.0"/>
<path d="M220.0 376.2 C221.1 376.9 222.2 377.5 223.2 378.1 C224.5 378.8 225.8 379.5 227.0 380.2"/>
<path d="M224.5 380.2 C228.7 378.9 232.8 377.2 237.0 376.2 C241.2 375.3 245.3 375.1 249.5 374.8 C257.8 374.1 266.2 373.9 274.5 373.5 C280.8 373.2 287.0 373.0 293.2 372.5 C297.4 372.2 301.6 371.4 305.8 371.0 C310.5 370.6 315.2 370.5 320.0 370.2"/>
<path d="M320.0 301.9 C327.0 301.9 334.0 301.9 341.0 301.9 C347.2 301.8 353.5 301.5 359.8 301.2 C366.0 301.0 372.2 300.8 378.5 300.6 C382.7 300.6 386.8 300.6 391.0 300.6"/>
<path d="M320.0 302.5 C327.0 302.7 334.0 302.7 341.0 303.1 C345.2 303.4 349.3 304.1 353.5 304.4 C357.7 304.7 361.8 305.0 366.0 305.0 C370.2 304.9 374.3 304.4 378.5 304.0 C382.7 303.6 386.8 303.0 391.0 302.5"/>
<path d="M320.0 333.8 C322.8 333.5 325.7 333.6 328.5 333.1 C332.7 332.4 336.8 331.0 341.0 330.0 C345.2 329.0 349.3 327.9 353.5 327.2 C357.7 326.6 361.8 326.4 366.0 326.2 C370.2 326.2 374.3 326.2 378.5 326.2 C382.7 326.3 386.8 326.4 391.0 326.5"/>
<path d="M320.0 334.0 C327.0 334.3 334.0 334.8 341.0 335.0 C349.3 335.3 357.7 335.5 366.0 335.6 C374.3 335.6 382.7 335.6 391.0 335.6"/>
<path d="M320.0 344.8 C324.9 344.8 329.8 344.8 334.8 345.0 C341.0 345.4 347.2 346.3 353.5 346.9 C359.8 347.5 366.0 348.1 372.2 348.5 C378.5 348.9 384.8 348.8 391.0 349.0"/>
<path d="M320.0 358.8 C322.8 358.5 325.7 358.2 328.5 358.1 C332.7 358.1 336.8 358.1 341.0 358.5 C345.2 359.0 349.3 360.0 353.5 361.2 C357.7 362.5 361.8 364.4 366.0 366.2 C370.2 368.1 374.3 370.4 378.5 372.5 C381.0 373.8 383.5 375.4 386.0 376.2 C387.7 376.8 389.3 376.7 391.0 376.9"/>
<path d="M320.0 359.0 C322.8 359.3 325.7 359.4 328.5 360.0 C332.7 360.9 336.8 362.4 341.0 363.8 C345.2 365.1 349.3 366.6 353.5 368.1 C357.7 369.7 361.8 371.4 366.0 373.1 C369.3 374.5 372.7 375.9 376.0 377.5 C377.7 378.3 379.3 379.3 381.0 380.2"/>
<path d="M320.0 375.0 C322.8 375.4 325.7 375.7 328.5 376.2 C332.7 377.1 336.8 378.3 341.0 379.4 C342.2 379.7 343.5 380.0 344.8 380.2"/>
<path d="M445.0 313.8 C450.7 314.1 456.3 314.6 462.0 314.8 C466.2 314.8 470.3 314.6 474.5 314.4 C482.8 314.0 491.2 313.4 499.5 313.1 C505.3 313.1 511.2 313.1 517.0 313.1 C518.0 313.1 519.0 313.2 520.0 313.2"/>
<path d="M445.0 314.1 C450.7 314.4 456.3 314.9 462.0 315.0 C466.2 315.0 470.3 314.8 474.5 314.6 C482.8 314.3 491.2 313.6 499.5 313.4 C505.3 313.4 511.2 313.4 517.0 313.4"/>
<path d="M445.0 333.8 C450.7 333.5 456.3 333.2 462.0 333.1 C466.2 333.1 470.3 333.1 474.5 333.1 C478.7 333.3 482.8 334.0 487.0 334.4 C491.2 334.8 495.3 335.3 499.5 335.6 C505.3 336.0 511.2 336.3 517.0 336.5 C518.0 336.5 519.0 336.3 520.0 336.2"/>
<path d="M445.0 334.0 C450.7 333.8 456.3 333.5 462.0 333.4 C466.2 333.4 470.3 333.4 474.5 333.4 C478.7 333.6 482.8 334.2 487.0 334.6 C491.2 335.0 495.3 335.6 499.5 335.9 C505.3 336.3 511.2 336.5 517.0 336.8"/>
<path d="M445.0 372.6 C446.5 373.2 448.0 373.9 449.5 374.4 C451.6 375.1 453.7 375.6 455.8 376.2"/>
<path d="M445.0 371.9 C448.6 371.2 452.2 370.8 455.8 370.0 C459.9 369.1 464.1 367.9 468.2 366.9 C472.4 365.8 476.6 364.6 480.8 363.8 C484.9 362.9 489.1 362.3 493.2 361.9 C497.4 361.5 501.6 361.4 505.8 361.2 C509.5 361.2 513.2 361.2 517.0 361.2 C518.0 361.3 519.0 361.4 520.0 361.5"/>
<path d="M445.0 377.4 C448.6 377.1 452.2 376.8 455.8 376.6 C462.0 376.3 468.2 376.1 474.5 375.6 C482.8 375.0 491.2 374.1 499.5 373.5 C503.7 373.2 507.8 373.0 512.0 372.9 C514.7 372.8 517.3 372.8 520.0 372.7"/>
<path d="M520.0 313.2 C528.5 313.3 537.0 313.5 545.5 313.5 C558.0 313.5 570.5 313.5 583.0 313.5 C587.2 313.1 591.3 310.5 595.5 308.8 C599.7 307.0 603.8 304.9 608.0 303.1 C610.7 302.0 613.3 300.9 616.0 299.8"/>
<path d="M520.0 313.4 C528.5 313.5 537.0 313.7 545.5 313.8 C558.0 313.8 570.5 313.8 583.0 313.8 C585.1 313.8 587.2 314.7 589.2 315.0 C592.2 315.4 595.1 316.0 598.0 316.0 C601.3 315.8 604.7 314.9 608.0 313.8 C610.7 312.8 613.3 311.1 616.0 309.8"/>
<path d="M520.0 336.6 C524.3 336.1 528.7 335.7 533.0 335.2 C539.2 334.6 545.5 333.7 551.8 333.1 C558.0 332.6 564.2 332.1 570.5 331.9 C574.7 331.9 578.8 331.9 583.0 331.9 C587.2 331.6 591.3 330.7 595.5 330.0 C599.7 329.3 603.8 328.2 608.0 327.5 C610.7 327.1 613.3 327.0 616.0 326.7"/>
<path d="M520.0 336.8 C524.3 336.4 528.7 336.0 533.0 335.5 C539.2 334.8 545.5 333.9 551.8 333.4 C558.0 332.8 564.2 332.4 570.5 332.1 C574.7 332.1 578.8 332.1 583.0 332.1 C587.2 331.8 591.3 330.8 595.5 330.2 C599.7 329.7 603.8 329.0 608.0 329.0 C610.7 329.1 613.3 330.2 616.0 330.8"/>
<path d="M520.0 361.6 C524.3 361.8 528.7 361.8 533.0 362.2 C537.2 362.7 541.3 363.6 545.5 364.4 C549.7 365.1 553.8 366.2 558.0 366.9 C562.2 367.6 566.3 368.2 570.5 368.5 C574.7 368.8 578.8 368.8 583.0 368.8 C587.2 368.3 591.3 367.1 595.5 365.6 C599.7 364.2 603.8 362.0 608.0 360.0 C610.7 358.7 613.3 357.3 616.0 356.0"/>
<path d="M520.0 361.9 C524.3 362.1 528.7 362.0 533.0 362.5 C537.2 362.9 541.3 363.9 545.5 364.6 C549.7 365.4 553.8 366.4 558.0 367.1 C562.2 367.8 566.3 368.4 570.5 368.8 C574.7 369.0 578.8 368.8 583.0 369.0 C587.2 369.5 591.3 370.9 595.5 371.9 C599.7 372.9 603.8 374.2 608.0 375.0 C610.7 375.5 613.3 375.5 616.0 375.8"/>
<path d="M520.0 372.6 C528.5 372.8 537.0 372.8 545.5 373.1 C553.8 373.4 562.2 374.0 570.5 374.4 C574.7 374.6 578.8 374.7 583.0 375.0 C587.2 375.3 591.3 375.8 595.5 376.2 C599.7 376.7 603.8 377.3 608.0 377.5 C610.7 377.5 613.3 377.2 616.0 377.1"/>
<path d="M520.0 372.8 C528.5 373.0 537.0 373.1 545.5 373.4 C553.8 373.7 562.2 374.2 570.5 374.6 C574.7 374.8 578.8 374.9 583.0 375.2 C587.2 375.6 591.3 376.2 595.5 376.9 C599.7 377.6 603.8 378.5 608.0 379.4 C609.2 379.6 610.5 380.0 611.8 380.2"/>
<path d="M616.0 300.5 C617.4 300.0 618.8 299.3 620.2 299.0 C623.2 298.4 626.1 298.0 629.0 297.8 C631.7 297.5 634.3 297.5 637.0 297.5 C642.7 297.7 648.3 298.1 654.0 298.5 C658.2 298.8 662.3 299.4 666.5 299.4 C669.8 299.3 673.2 298.8 676.5 298.1 C679.4 297.5 682.3 296.5 685.2 295.6 C688.2 294.8 691.1 293.8 694.0 293.1 C697.3 292.3 700.7 291.9 704.0 291.2"/>
<path d="M616.0 297.9 C616.2 298.0 616.3 298.1 616.5 298.1 C620.7 299.4 624.8 300.9 629.0 301.9 C631.7 302.5 634.3 302.7 637.0 302.8 C646.8 302.8 656.7 302.8 666.5 302.8 C679.0 302.8 691.5 303.0 704.0 303.1"/>
<path d="M616.0 310.2 C616.2 310.1 616.3 310.1 616.5 310.0 C620.7 308.1 624.8 305.9 629.0 304.4 C631.7 303.4 634.3 302.7 637.0 302.5 C646.8 302.2 656.7 302.3 666.5 302.2 C679.0 302.2 691.5 302.2 704.0 302.2"/>
<path d="M616.0 326.4 C616.2 326.3 616.3 326.3 616.5 326.2 C620.7 325.8 624.8 325.3 629.0 325.0 C631.7 324.8 634.3 324.8 637.0 324.8 C642.7 325.0 648.3 325.6 654.0 326.2 C658.2 326.7 662.3 327.4 666.5 328.1 C670.7 328.9 674.8 329.8 679.0 330.6 C683.2 331.5 687.3 332.6 691.5 333.1 C695.7 333.7 699.8 333.7 704.0 334.0"/>
<path d="M616.0 331.2 C618.2 331.8 620.5 332.6 622.8 333.1 C625.7 333.8 628.6 334.5 631.5 335.0 C633.3 335.3 635.2 335.6 637.0 335.6 C646.8 335.6 656.7 335.2 666.5 335.0 C679.0 334.8 691.5 334.6 704.0 334.4"/>
<path d="M616.0 356.8 C618.2 355.4 620.5 353.7 622.8 352.5 C625.7 351.0 628.6 349.6 631.5 348.8 C633.3 348.2 635.2 348.2 637.0 348.1 C642.7 348.1 648.3 348.1 654.0 348.1 C660.2 347.9 666.5 347.5 672.8 346.9 C676.9 346.5 681.1 345.6 685.2 345.0 C688.2 344.6 691.1 344.0 694.0 343.8 C697.3 343.4 700.7 343.3 704.0 343.1"/>
<path d="M616.0 376.2 C616.2 376.2 616.3 376.2 616.5 376.2 C620.7 376.5 624.8 376.9 629.0 376.9 C633.2 376.9 637.3 376.9 641.5 376.2 C643.6 375.9 645.7 375.0 647.8 373.8 C649.8 372.5 651.9 370.3 654.0 368.8 C656.1 367.2 658.2 365.6 660.2 364.4 C662.3 363.1 664.4 362.1 666.5 361.2 C669.0 360.2 671.5 359.3 674.0 358.8 C676.5 358.2 679.0 357.9 681.5 357.8 C689.0 357.5 696.5 357.6 704.0 357.5"/>
<path d="M616.0 377.1 C618.2 377.2 620.5 377.5 622.8 377.5 C629.0 377.5 635.2 377.5 641.5 377.5 C644.8 377.5 648.2 377.5 651.5 377.5 C653.2 377.4 654.8 377.1 656.5 376.2 C659.0 375.0 661.5 372.9 664.0 371.2 C666.5 369.6 669.0 367.7 671.5 366.2 C674.0 364.8 676.5 363.5 679.0 362.5 C681.5 361.5 684.0 360.8 686.5 360.2 C689.0 359.7 691.5 359.5 694.0 359.4 C697.3 359.4 700.7 359.4 704.0 359.4"/>
<path d="M672.8 380.2 C674.8 379.3 676.9 378.1 679.0 377.5 C683.2 376.3 687.3 375.7 691.5 375.0 C695.7 374.3 699.8 373.8 704.0 373.1"/>
<path d="M120.0 374.4 C124.9 374.4 129.8 374.4 134.8 374.4 C138.9 374.6 143.1 374.9 147.2 375.6 C150.6 376.2 153.9 377.2 157.2 378.1 C160.2 378.9 163.1 379.9 166.0 380.6 C168.7 381.3 171.3 382.0 174.0 382.1 C181.8 382.2 189.5 382.2 197.2 382.2 C204.8 382.2 212.4 382.2 220.0 382.1"/>
<path d="M120.0 384.8 C124.9 384.6 129.8 384.7 134.8 384.4 C138.9 384.1 143.1 383.7 147.2 383.1 C150.6 382.7 153.9 382.1 157.2 381.2 C159.3 380.7 161.4 379.8 163.5 378.8 C165.6 377.7 167.7 376.0 169.8 375.0 C171.2 374.3 172.6 373.8 174.0 373.8 C181.8 373.8 189.5 374.4 197.2 374.8 C204.8 375.1 212.4 375.6 220.0 376.0"/>
<path d="M120.0 406.9 C122.8 405.6 125.7 404.7 128.5 403.1 C132.7 400.8 136.8 397.4 141.0 395.0 C145.2 392.6 149.3 390.4 153.5 388.8 C157.7 387.1 161.8 386.3 166.0 385.0 C168.7 384.2 171.3 383.3 174.0 382.5"/>
<path d="M120.0 410.6 C124.9 410.4 129.8 410.6 134.8 410.0 C136.8 409.7 138.9 408.7 141.0 407.5 C144.3 405.6 147.7 402.5 151.0 400.6 C153.9 399.0 156.8 397.7 159.8 396.9 C161.8 396.3 163.9 396.2 166.0 396.2 C168.7 396.7 171.3 398.8 174.0 399.4 C181.8 400.9 189.5 401.7 197.2 402.5 C204.8 403.3 212.4 403.5 220.0 404.0"/>
<path d="M120.0 412.5 C127.0 412.3 134.0 412.3 141.0 411.9 C144.3 411.7 147.7 411.4 151.0 410.6 C153.9 409.9 156.8 409.0 159.8 407.5 C162.7 406.0 165.6 403.5 168.5 401.9 C170.3 400.9 172.2 399.8 174.0 399.8 C181.8 400.0 189.5 402.0 197.2 402.8 C204.8 403.5 212.4 403.8 220.0 404.2"/>
<path d="M120.0 415.4 C124.2 415.2 128.4 414.8 132.7 414.8 C136.8 414.9 141.0 415.4 145.2 415.8 C149.3 416.3 153.5 417.0 157.7 417.5 C161.8 418.0 166.0 418.6 170.2 419.0 C171.6 419.1 173.1 419.1 174.5 419.2"/>
<path d="M120.0 416.7 C125.6 416.5 131.2 416.2 136.8 416.2 C139.1 416.3 141.3 416.9 143.5 417.7 C145.4 418.3 147.4 419.6 149.3 420.4 C151.3 421.2 153.2 422.2 155.2 422.3 C157.1 422.3 159.1 421.7 161.0 421.2 C163.2 420.8 165.4 420.1 167.7 419.6"/>
<path d="M120.0 417.9 C121.7 418.2 123.4 418.1 125.2 418.8 C126.6 419.3 127.9 420.6 129.3 421.7 C131.0 423.0 132.7 424.7 134.3 425.8 C136.0 427.0 137.7 427.9 139.3 428.8 C141.3 429.7 143.2 430.6 145.2 431.2 C147.9 432.1 150.7 432.9 153.5 433.3 C156.6 433.8 159.6 433.8 162.7 433.8 C166.6 433.6 170.4 432.9 174.3 432.5 C174.4 432.5 174.4 432.5 174.5 432.5"/>
<path d="M120.0 426.2 C122.8 426.8 125.7 427.5 128.5 427.9 C131.3 428.3 134.1 428.7 136.8 428.8 C139.1 428.8 141.3 428.8 143.5 428.3 C145.4 427.9 147.4 426.8 149.3 426.2 C151.0 425.7 152.7 425.1 154.3 425.0 C155.7 425.0 157.1 425.3 158.5 425.8 C160.2 426.5 161.8 427.9 163.5 428.8 C165.4 429.7 167.4 430.6 169.3 431.2 C171.0 431.8 172.7 432.0 174.3 432.3"/>
<path d="M120.0 428.8 C124.2 428.9 128.4 428.8 132.7 429.2 C135.4 429.4 138.2 430.1 141.0 430.8 C143.8 431.5 146.6 432.7 149.3 433.3 C152.1 434.0 154.9 434.3 157.7 434.6 C160.4 434.9 163.2 434.9 166.0 435.0 C168.8 435.1 171.7 435.2 174.5 435.3"/>
<path d="M120.0 436.0 C122.8 436.1 125.7 436.0 128.5 436.2 C131.3 436.5 134.1 437.0 136.8 437.5 C139.6 438.0 142.4 438.5 145.2 439.2 C147.9 439.8 150.7 440.7 153.5 441.2 C156.3 441.8 159.1 442.3 161.8 442.5 C166.0 442.5 170.2 442.5 174.3 442.5 C174.4 442.5 174.4 442.5 174.5 442.5"/>
<path d="M120.0 438.2 C122.8 438.2 125.7 438.2 128.5 438.2 C131.3 438.3 134.1 438.7 136.8 439.0 C139.6 439.3 142.4 439.8 145.2 439.8 C147.1 439.8 149.1 439.4 151.0 438.8 C152.7 438.2 154.3 436.7 156.0 436.2 C158.2 435.6 160.4 435.6 162.7 435.4 C166.6 435.2 170.4 435.1 174.3 435.0"/>
<path d="M120.0 451.2 C122.8 450.6 125.7 450.0 128.5 449.2 C131.3 448.3 134.1 447.4 136.8 446.2 C139.1 445.3 141.3 444.0 143.5 442.9 C145.4 441.9 147.4 441.0 149.3 440.0 C150.4 439.4 151.6 438.9 152.7 438.3"/>
<path d="M120.0 452.9 C122.8 452.5 125.7 452.2 128.5 451.7 C131.3 451.1 134.1 450.3 136.8 449.6 C139.6 448.9 142.4 448.0 145.2 447.3 C147.9 446.7 150.7 446.1 153.5 445.7 C155.7 445.3 157.9 445.0 160.2 445.0 C161.8 445.1 163.5 445.7 165.2 446.5 C166.8 447.3 168.5 449.0 170.2 449.6 C171.6 449.9 173.1 449.8 174.5 449.9"/>
<path d="M120.0 454.3 C122.8 453.9 125.7 453.5 128.5 452.9 C131.3 452.3 134.1 451.5 136.8 450.8 C139.1 450.3 141.3 449.3 143.5 449.2 C145.4 449.2 147.4 449.3 149.3 449.8 C151.3 450.3 153.2 451.5 155.2 452.1 C157.1 452.7 159.1 453.3 161.0 453.3 C162.9 453.3 164.9 452.9 166.8 452.3 C168.2 451.9 169.6 450.8 171.0 450.4 C172.2 450.1 173.3 450.2 174.5 450.1"/>
<path d="M120.0 457.5 C121.4 457.9 122.9 458.1 124.3 458.8 C125.0 459.0 125.7 459.7 126.4 460.2"/>
<path d="M136.8 460.2 C139.1 459.7 141.3 459.0 143.5 458.8 C146.8 458.4 150.2 458.3 153.5 458.2 C157.7 458.0 161.8 458.0 166.0 457.9 C168.8 457.9 171.7 457.8 174.5 457.7"/>
<path d="M174.0 419.1 C178.2 419.2 182.4 419.1 186.7 419.3 C192.2 419.7 197.8 420.6 203.3 421.2 C206.1 421.6 208.9 421.9 211.7 422.1 C214.4 422.1 217.2 422.1 220.0 422.1"/>
<path d="M174.0 432.1 C175.4 432.1 176.9 432.1 178.3 432.1 C181.1 431.6 183.9 430.8 186.7 430.0 C190.8 428.8 195.0 426.9 199.2 425.8 C203.3 424.7 207.5 423.9 211.7 423.3 C214.4 422.9 217.2 423.1 220.0 422.9"/>
<path d="M174.0 435.9 C178.2 436.0 182.4 435.9 186.7 436.2 C192.2 436.7 197.8 437.8 203.3 438.3 C208.9 438.9 214.4 439.2 220.0 439.6"/>
<path d="M174.0 442.1 C175.4 442.0 176.9 441.7 178.3 441.7 C181.1 441.8 183.9 442.5 186.7 442.9 C192.2 443.8 197.8 444.9 203.3 445.8 C208.9 446.7 214.4 447.5 220.0 448.3"/>
<path d="M174.0 450.0 C178.2 450.0 182.4 450.0 186.7 450.0 C192.2 450.2 197.8 450.7 203.3 450.8 C208.9 451.0 214.4 450.9 220.0 451.0"/>
<path d="M174.0 450.2 C178.2 450.2 182.4 450.2 186.7 450.2 C192.2 450.4 197.8 450.9 203.3 451.1 C208.9 451.3 214.4 451.2 220.0 451.3"/>
<path d="M174.0 457.9 C175.4 457.8 176.9 457.7 178.3 457.5 C182.5 456.9 186.7 456.0 190.8 455.4 C195.0 454.8 199.2 454.2 203.3 453.8 C208.9 453.1 214.4 452.6 220.0 452.1"/>
<path d="M220.0 376.2 C223.6 374.2 227.2 372.1 230.8 370.0 C233.7 368.3 236.6 366.6 239.5 365.0 C242.0 363.7 244.5 362.5 247.0 361.2 C247.8 360.8 248.7 360.4 249.5 360.0"/>
<path d="M220.0 376.2 C222.8 377.3 225.5 378.1 228.2 379.4 C231.2 380.8 234.1 383.3 237.0 384.4 C240.3 385.6 243.7 386.0 247.0 386.2 C256.0 386.9 265.0 386.8 274.0 386.9 C289.3 386.9 304.7 386.6 320.0 386.5"/>
<path d="M220.0 382.2 C222.3 381.1 224.7 379.6 227.0 378.8 C230.3 377.6 233.7 376.9 237.0 376.2 C241.2 375.4 245.3 374.7 249.5 374.4 C257.7 373.7 265.8 373.4 274.0 373.1 C282.5 372.8 291.0 372.9 299.5 372.5 C303.7 372.3 307.8 371.6 312.0 371.2 C314.7 371.0 317.3 370.8 320.0 370.6"/>
<path d="M220.0 382.2 C222.8 383.6 225.5 385.1 228.2 386.2 C231.2 387.5 234.1 388.1 237.0 389.4 C240.3 390.8 243.7 392.6 247.0 394.4 C249.9 395.9 252.8 398.1 255.8 399.4 C258.7 400.6 261.6 401.5 264.5 401.9 C267.7 401.9 270.8 401.5 274.0 401.5 C289.3 401.5 304.7 401.8 320.0 401.9"/>
<path d="M220.0 404.0 C221.5 402.9 223.0 401.3 224.5 400.6 C226.6 399.7 228.7 399.1 230.8 399.0 C232.8 399.0 234.9 399.3 237.0 400.0 C239.5 400.9 242.0 402.5 244.5 403.8 C247.4 405.2 250.3 407.2 253.2 408.1 C257.0 409.3 260.8 409.5 264.5 410.0 C267.7 410.4 270.8 410.6 274.0 410.6 C278.3 410.6 282.7 410.4 287.0 410.0 C291.2 409.6 295.3 408.6 299.5 408.1 C303.7 407.6 307.8 407.1 312.0 406.9 C314.7 406.9 317.3 407.1 320.0 407.2"/>
<path d="M220.0 405.0 C221.8 406.4 223.6 407.6 225.4 409.1 C227.0 410.5 228.7 412.2 230.4 413.8 C231.8 415.1 233.3 416.8 234.8 417.8 C235.6 418.4 236.4 418.4 237.2 418.4 C239.5 418.3 241.8 417.8 244.1 417.2 C246.2 416.6 248.3 415.6 250.4 415.0 C252.5 414.4 254.5 413.7 256.6 413.4 C259.8 413.0 262.9 413.3 266.0 413.0 C268.7 412.8 271.3 412.2 274.0 411.9"/>
<path d="M220.0 420.7 C221.8 420.6 223.6 420.5 225.4 420.3 C228.5 420.0 231.6 419.4 234.8 419.1 C236.8 418.9 238.9 419.0 241.0 418.8 C243.1 418.5 245.2 418.0 247.2 417.5 C249.3 417.0 251.4 416.0 253.5 415.6 C255.6 415.2 257.7 415.0 259.8 415.0 C262.9 415.0 266.0 415.2 269.1 415.3 C270.8 415.4 272.4 415.5 274.0 415.5"/>
<path d="M220.0 422.6 C222.8 422.7 225.7 422.8 228.5 422.8 C232.7 422.8 236.8 422.8 241.0 422.8 C245.2 422.8 249.3 422.8 253.5 422.8 C256.6 422.8 259.8 422.8 262.9 422.5 C265.0 422.2 267.0 421.2 269.1 420.6 C270.8 420.2 272.4 419.9 274.0 419.5"/>
<path d="M220.0 423.9 C221.8 423.9 223.6 423.9 225.4 424.1 C227.5 424.3 229.5 424.1 231.6 425.0 C233.7 425.9 235.8 427.7 237.9 429.4 C239.8 430.9 241.6 432.4 243.5 434.4 C245.2 436.1 246.8 438.6 248.5 440.6 C250.2 442.6 251.8 444.6 253.5 446.2 C254.5 447.3 255.6 448.1 256.6 448.8 C257.7 449.4 258.7 449.7 259.8 450.1"/>
<path d="M220.0 424.4 C224.9 424.4 229.8 424.4 234.8 424.4 C237.9 424.5 241.0 424.5 244.1 425.0 C246.2 425.3 248.3 426.1 250.4 426.9 C252.5 427.7 254.5 429.0 256.6 429.7 C258.7 430.4 260.8 430.9 262.9 431.2 C265.0 431.6 267.0 431.7 269.1 431.9 C270.8 432.0 272.4 432.0 274.0 432.1"/>
<path d="M220.0 438.9 C221.8 438.9 223.6 438.9 225.4 438.8 C228.5 438.3 231.6 437.6 234.8 436.9 C236.8 436.4 238.9 435.7 241.0 435.0 C243.1 434.3 245.2 433.3 247.2 432.5 C249.3 431.7 251.4 430.9 253.5 430.0 C255.6 429.1 257.7 428.0 259.8 426.9 C261.8 425.7 263.9 424.2 266.0 423.1 C268.1 422.0 270.2 421.2 272.2 420.3 C272.8 420.1 273.4 420.0 274.0 419.9"/>
<path d="M244.1 405.0 C245.6 405.6 247.0 406.3 248.5 406.9 C250.2 407.5 251.8 408.3 253.5 408.8 C255.6 409.3 257.7 409.5 259.8 409.7 C261.8 409.9 263.9 409.7 266.0 410.0 C268.1 410.3 270.2 410.8 272.2 411.2 C272.8 411.4 273.4 411.4 274.0 411.5"/>
<path d="M243.5 434.4 C246.8 434.2 250.2 433.9 253.5 433.8 C256.6 433.6 259.8 433.6 262.9 433.4 C265.0 433.4 267.0 433.1 269.1 433.1 C270.8 433.1 272.4 433.3 274.0 433.3"/>
<path d="M220.0 440.5 C222.8 440.5 225.7 440.5 228.5 440.3 C231.6 440.1 234.8 439.6 237.9 439.1 C240.0 438.7 242.0 437.8 244.1 437.8 C245.6 437.9 247.0 439.0 248.5 439.4 C250.2 439.8 251.8 440.2 253.5 440.3 C256.6 440.3 259.8 440.3 262.9 440.3 C266.6 440.3 270.3 440.3 274.0 440.3"/>
<path d="M251.0 439.7 C253.9 439.4 256.8 439.0 259.8 438.8 C262.9 438.5 266.0 438.3 269.1 438.1 C270.8 438.0 272.4 438.1 274.0 438.0"/>
<path d="M245.4 436.9 C246.8 438.8 248.3 440.8 249.8 442.5 C251.0 444.0 252.2 445.4 253.5 446.6 C254.5 447.5 255.6 447.8 256.6 448.8 C258.1 450.0 259.5 451.7 261.0 453.1 C262.7 454.8 264.3 456.7 266.0 458.1 C267.7 459.6 269.3 460.7 271.0 461.9 C272.0 462.6 273.0 463.1 274.0 463.8"/>
<path d="M256.6 448.8 C257.7 449.1 258.7 449.7 259.8 449.7 C261.8 449.6 263.9 448.7 266.0 448.4 C268.7 448.1 271.3 447.9 274.0 447.7"/>
<path d="M220.0 447.3 C220.8 447.2 221.5 447.1 222.2 446.9 C224.3 446.2 226.4 445.0 228.5 444.4 C231.6 443.5 234.8 443.1 237.9 442.5 C240.0 442.1 242.0 441.8 244.1 441.6 C245.6 441.4 247.0 441.4 248.5 441.2"/>
<path d="M220.0 450.0 C221.8 449.2 223.6 448.2 225.4 447.5 C227.5 446.7 229.5 446.1 231.6 445.6 C234.8 444.9 237.9 444.2 241.0 443.8 C243.1 443.4 245.2 443.3 247.2 443.1"/>
<path d="M220.0 450.6 C222.8 450.6 225.7 450.6 228.5 450.6 C232.7 450.9 236.8 451.7 241.0 451.9 C244.1 451.9 247.2 451.7 250.4 451.6 C252.5 451.5 254.5 451.4 256.6 451.2"/>
<path d="M220.0 452.5 C222.8 452.9 225.7 453.4 228.5 453.8 C231.6 454.1 234.8 454.4 237.9 454.7 C241.0 454.9 244.1 455.2 247.2 455.3 C251.4 455.5 255.6 455.6 259.8 455.6 C264.5 455.6 269.2 455.4 274.0 455.4"/>
<path d="M220.0 453.1 C222.8 454.0 225.7 454.7 228.5 455.6 C230.6 456.3 232.7 457.3 234.8 458.1 C236.8 459.0 238.9 459.8 241.0 460.6 C243.1 461.4 245.2 462.2 247.2 462.8 C249.3 463.4 251.4 464.2 253.5 464.4 C256.6 464.4 259.8 464.4 262.9 464.4 C266.0 464.3 269.1 464.0 272.2 463.8 C272.8 463.7 273.4 463.7 274.0 463.6"/>
<path d="M220.0 453.8 C223.9 455.5 227.8 457.4 231.6 459.1 C234.8 460.4 237.9 461.5 241.0 462.5 C243.1 463.2 245.2 463.6 247.2 464.1 C249.3 464.5 251.4 464.7 253.5 465.0"/>
<path d="M274.0 412.4 C275.5 412.4 277.0 412.4 278.5 412.4 C282.7 412.3 286.8 412.2 291.0 412.1 C295.2 411.9 299.3 411.6 303.5 411.4 C309.0 411.2 314.5 411.0 320.0 410.8"/>
<path d="M274.0 415.1 C274.5 415.1 274.9 415.1 275.4 415.2 C278.5 415.5 281.6 416.1 284.8 416.1 C288.9 416.1 293.1 415.6 297.2 415.2 C300.4 414.9 303.5 414.3 306.6 413.9 C309.8 413.6 312.9 413.3 316.0 413.0 C317.3 412.9 318.7 413.0 320.0 412.7 C322.0 412.2 324.0 411.2 326.0 410.5"/>
<path d="M274.0 419.2 C279.7 419.1 285.3 419.0 291.0 418.9 C295.2 418.9 299.3 418.9 303.5 418.9 C309.0 419.0 314.5 419.2 320.0 419.2 C322.0 419.2 324.0 419.2 326.0 419.2"/>
<path d="M274.0 421.7 C275.5 421.6 277.0 421.5 278.5 421.4 C281.6 421.2 284.8 421.1 287.9 420.8 C290.0 420.6 292.0 420.2 294.1 419.9"/>
<path d="M274.0 425.0 C276.5 424.8 279.1 424.7 281.6 424.2 C283.7 423.9 285.8 423.2 287.9 422.7 C290.0 422.2 292.0 421.6 294.1 421.1 C296.2 420.7 298.3 420.3 300.4 419.9"/>
<path d="M320.0 412.7 C320.8 414.0 321.5 415.9 322.2 416.8 C323.5 418.1 324.8 418.4 326.0 419.2"/>
<path d="M274.0 432.1 C275.5 432.2 277.0 432.4 278.5 432.4 C281.6 432.3 284.8 432.2 287.9 431.8 C291.0 431.3 294.1 430.4 297.2 429.9 C300.4 429.4 303.5 428.9 306.6 428.6 C309.8 428.4 312.9 428.3 316.0 428.3 C317.3 428.3 318.7 428.5 320.0 428.6 C322.0 428.8 324.0 429.0 326.0 429.2"/>
<path d="M274.0 433.6 C277.6 433.6 281.2 433.6 284.8 433.6 C291.0 433.6 297.2 433.4 303.5 433.3 C309.0 433.2 314.5 433.1 320.0 433.0 C322.0 433.0 324.0 433.0 326.0 433.0"/>
<path d="M274.0 436.9 C276.1 436.6 278.2 436.1 280.4 436.1 C282.9 436.2 285.4 436.8 287.9 437.1 C290.0 437.3 292.0 437.7 294.1 437.7 C296.0 437.6 297.9 437.1 299.8 436.8"/>
<path d="M274.0 439.5 C274.5 439.4 274.9 439.3 275.4 439.2 C278.5 439.0 281.6 438.8 284.8 438.6 C287.9 438.4 291.0 438.3 294.1 438.0 C297.2 437.7 300.4 437.3 303.5 436.8 C306.6 436.2 309.8 435.3 312.9 434.9 C315.2 434.6 317.6 434.7 320.0 434.6"/>
<path d="M320.0 436.1 L326.0 436.1"/>
<path d="M274.0 441.4 C275.5 441.3 277.0 441.2 278.5 441.1 C281.6 440.9 284.8 440.8 287.9 440.5 C291.0 440.2 294.1 439.7 297.2 439.2"/>
<path d="M120.0 456.2 C122.0 457.1 124.0 457.8 126.0 458.8 C128.1 459.7 130.2 461.0 132.2 461.9 C135.2 463.1 138.1 464.1 141.0 465.0 C144.3 466.0 147.7 466.7 151.0 467.5 C153.9 468.2 156.8 468.9 159.8 469.4 C164.5 470.1 169.2 470.9 174.0 471.2 C181.8 471.8 189.5 471.8 197.2 471.9 C204.8 471.9 212.4 471.9 220.0 471.9"/>
<path d="M120.0 463.8 C122.8 463.7 125.7 463.8 128.5 463.5 C131.4 463.1 134.3 461.9 137.2 461.2 C140.6 460.4 143.9 459.4 147.2 459.0 C151.4 458.8 155.6 458.8 159.8 458.8 C166.0 458.6 172.2 458.8 178.5 458.5 C182.7 458.2 186.8 457.0 191.0 456.2 C195.2 455.5 199.3 454.5 203.5 453.8 C207.7 453.0 211.8 452.5 216.0 451.9 C217.3 451.7 218.7 451.5 220.0 451.2"/>
<path d="M120.0 465.0 C124.9 464.9 129.8 464.8 134.8 464.8 C138.1 464.8 141.4 464.8 144.8 464.8 C147.7 464.4 150.6 463.4 153.5 462.5 C155.6 461.9 157.7 460.8 159.8 460.2 C161.8 459.7 163.9 459.4 166.0 459.0"/>
<path d="M120.0 471.9 C124.9 471.2 129.8 470.5 134.8 470.0 C138.9 469.6 143.1 469.4 147.2 469.4 C151.4 469.5 155.6 470.3 159.8 470.6 C164.5 471.0 169.2 471.4 174.0 471.6 C181.8 472.0 189.5 472.1 197.2 472.2 C204.8 472.2 212.4 472.2 220.0 472.2"/>
<path d="M120.0 486.9 C122.8 485.4 125.7 483.9 128.5 482.5 C131.4 481.1 134.3 479.4 137.2 478.5 C139.8 477.8 142.2 477.8 144.8 477.8 C147.7 478.1 150.6 479.9 153.5 480.6 C155.6 481.1 157.7 481.2 159.8 481.2 C162.7 480.9 165.6 479.5 168.5 478.8 C170.3 478.3 172.2 477.8 174.0 477.8 C181.8 477.5 189.5 477.8 197.2 477.5 C204.8 477.1 212.4 476.2 220.0 475.6"/>
<path d="M120.0 487.5 C124.9 486.9 129.8 486.1 134.8 485.6 C138.9 485.2 143.1 485.1 147.2 484.8 C150.6 484.5 153.9 484.5 157.2 483.8 C160.2 483.1 163.1 481.6 166.0 480.6 C168.7 479.7 171.3 478.4 174.0 478.1 C181.8 477.9 189.5 478.1 197.2 477.9 C204.8 477.5 212.4 476.6 220.0 476.0"/>
<path d="M120.0 488.1 C122.8 490.0 125.7 491.8 128.5 493.8 C131.4 495.8 134.3 498.0 137.2 500.0 C139.8 501.7 142.2 504.0 144.8 505.0 C146.0 505.0 147.2 505.0 148.5 504.4 C150.2 502.9 151.8 499.0 153.5 497.5 C155.6 495.6 157.7 494.4 159.8 494.4 C161.8 494.4 163.9 496.2 166.0 497.5 C168.7 499.2 171.3 503.1 174.0 503.5 C181.8 503.5 189.5 503.0 197.2 502.8 C204.8 502.5 212.4 502.4 220.0 502.2"/>
<path d="M174.0 523.1 C176.3 522.8 178.7 522.9 181.0 522.2 C184.3 521.3 187.7 519.8 191.0 518.1 C195.2 516.1 199.3 513.2 203.5 511.2 C206.8 509.7 210.2 508.4 213.5 507.5 C215.7 506.9 217.8 507.1 220.0 506.9"/>
<path d="M174.0 504.0 C181.8 503.7 189.5 503.4 197.2 503.1 C204.8 502.8 212.4 502.5 220.0 502.2"/>
<path d="M220.0 502.5 C221.5 501.0 223.0 499.2 224.5 498.1 C226.6 496.7 228.7 495.6 230.8 495.0 C232.8 494.4 234.9 494.4 237.0 494.4 C240.3 494.5 243.7 495.6 247.0 495.6 C249.9 495.5 252.8 494.4 255.8 493.8 C259.1 493.0 262.4 491.7 265.8 491.2 C268.5 491.2 271.2 491.5 274.0 491.5 C280.4 491.2 286.8 490.6 293.2 490.0 C299.5 489.4 305.8 488.7 312.0 488.1 C314.7 487.9 317.3 487.9 320.0 487.8"/>
<path d="M220.0 471.9 C223.6 471.6 227.2 471.5 230.8 471.0 C234.9 470.4 239.1 469.7 243.2 468.8 C246.6 468.0 249.9 466.4 253.2 465.6 C257.0 464.7 260.8 464.3 264.5 463.8 C267.7 463.3 270.8 462.5 274.0 462.5 C278.3 462.5 282.7 463.4 287.0 463.8 C293.2 464.2 299.5 464.6 305.8 465.0 C310.5 465.3 315.2 465.4 320.0 465.6"/>
<path d="M220.0 471.9 C223.6 471.9 227.2 471.9 230.8 471.9 C234.9 471.7 239.1 471.0 243.2 470.6 C245.3 470.4 247.4 470.0 249.5 470.0 C251.6 470.2 253.7 471.4 255.8 471.9 C258.7 472.5 261.6 472.9 264.5 473.1 C267.7 473.1 270.8 473.1 274.0 473.1 C278.3 473.4 282.7 474.1 287.0 474.4 C291.2 474.7 295.3 475.0 299.5 475.0 C303.7 474.9 307.8 474.3 312.0 474.0 C314.7 473.8 317.3 473.7 320.0 473.5"/>
<path d="M220.0 475.6 C222.3 475.1 224.7 474.3 227.0 474.0 C230.3 473.5 233.7 473.2 237.0 473.1 C239.5 473.1 242.0 473.1 244.5 473.5 C246.2 473.9 247.8 474.9 249.5 476.2 C251.6 477.9 253.7 480.6 255.8 482.5 C257.8 484.4 259.9 485.9 262.0 487.5 C264.1 489.1 266.2 490.4 268.2 491.9"/>
<path d="M220.0 476.0 C221.5 476.6 223.0 477.4 224.5 477.8 C226.6 478.2 228.7 478.5 230.8 478.5 C232.8 478.4 234.9 477.8 237.0 477.2 C239.1 476.7 241.2 475.3 243.2 475.0 C245.3 475.0 247.4 475.3 249.5 475.6 C251.6 475.9 253.7 476.5 255.8 476.9 C258.7 477.4 261.6 477.6 264.5 478.1 C267.7 478.7 270.8 479.8 274.0 480.0 C278.3 480.0 282.7 479.4 287.0 479.4 C291.2 479.6 295.3 480.3 299.5 481.2 C303.7 482.2 307.8 483.9 312.0 485.0 C314.7 485.7 317.3 486.2 320.0 486.9"/>
<path d="M274.0 465.6 C282.5 465.6 291.0 465.6 299.5 465.6 C306.3 465.7 313.2 466.0 320.0 466.2"/>
<path d="M274.5 451.2 C278.7 451.5 282.8 451.7 287.0 451.9 C291.2 452.1 295.3 452.3 299.5 452.5 C306.3 452.8 313.2 452.9 320.0 453.1"/>
<path d="M274.0 447.5 C278.3 447.9 282.7 448.1 287.0 448.8 C291.2 449.4 295.3 450.6 299.5 451.2 C303.7 451.9 307.8 452.2 312.0 452.5 C314.7 452.7 317.3 452.7 320.0 452.8"/>
<path d="M274.5 456.9 C278.7 456.2 282.8 455.6 287.0 455.0 C291.2 454.4 295.3 453.5 299.5 453.1 C306.3 452.5 313.2 452.3 320.0 451.9"/>
<path d="M274.5 461.2 C280.8 461.5 287.0 461.9 293.2 461.9 C299.5 461.7 305.8 460.4 312.0 460.0 C314.7 460.0 317.3 460.0 320.0 460.0"/>
<path d="M220.0 502.5 C221.5 504.2 223.0 505.8 224.5 507.5 C226.6 509.9 228.7 512.7 230.8 515.0 C232.8 517.3 234.9 519.5 237.0 521.2 C239.1 523.0 241.2 524.6 243.2 525.6 C245.3 526.6 247.4 527.1 249.5 527.2 C251.6 527.2 253.7 526.9 255.8 526.2 C257.8 525.6 259.9 524.1 262.0 523.1 C264.1 522.2 266.2 521.2 268.2 520.6 C270.2 520.1 272.1 519.8 274.0 519.8 C276.2 519.9 278.5 520.3 280.8 521.2 C282.8 522.1 284.9 523.4 287.0 525.0 C289.1 526.6 291.2 528.6 293.2 530.6 C295.3 532.6 297.4 534.7 299.5 536.9 C301.6 539.1 303.7 541.5 305.8 543.8 C307.8 546.0 309.9 548.5 312.0 550.6 C314.7 553.3 317.3 555.6 320.0 558.1"/>
<path d="M220.0 506.2 C223.6 506.5 227.2 506.5 230.8 506.9 C234.9 507.3 239.1 508.1 243.2 508.8 C247.4 509.4 251.6 510.4 255.8 510.6 C259.1 510.6 262.4 510.1 265.8 509.8 C268.5 509.4 271.2 508.5 274.0 508.5 C276.2 508.6 278.5 509.1 280.8 510.2 C282.8 511.3 284.9 513.1 287.0 515.0 C289.1 516.9 291.2 519.4 293.2 521.9 C295.3 524.4 297.4 527.2 299.5 530.0 C301.6 532.8 303.7 535.8 305.8 538.8 C307.8 541.7 309.9 544.7 312.0 547.5 C314.7 551.1 317.3 554.6 320.0 558.1"/>
<path d="M220.0 506.2 C225.7 506.9 231.3 506.6 237.0 508.1 C240.3 509.1 243.7 511.2 247.0 513.8 C249.1 515.4 251.2 518.2 253.2 520.6 C255.3 523.0 257.4 525.6 259.5 528.1 C261.2 530.2 262.8 532.6 264.5 534.4 C266.2 536.1 267.8 537.8 269.5 538.8 C271.0 539.6 272.5 539.7 274.0 540.0 C276.7 540.5 279.3 540.5 282.0 541.0 C284.5 541.5 287.0 542.2 289.5 543.1 C292.8 544.4 296.2 545.8 299.5 547.5 C302.8 549.2 306.2 551.4 309.5 553.1 C313.0 554.9 316.5 556.5 320.0 558.1"/>
<path d="M361.0 365.0 C364.8 366.7 368.5 368.1 372.2 370.0 C375.2 371.5 378.1 373.5 381.0 375.0 C382.7 375.8 384.3 376.5 386.0 376.9 C387.7 377.3 389.3 377.3 391.0 377.5"/>
<path d="M376.0 377.5 C379.3 377.6 382.7 377.7 386.0 377.8 C387.7 377.8 389.3 377.7 391.0 377.7"/>
<path d="M320.0 374.4 C322.8 374.8 325.7 374.9 328.5 375.6 C332.7 376.7 336.8 378.5 341.0 380.0 C345.2 381.5 349.3 383.3 353.5 384.4 C357.7 385.4 361.8 385.8 366.0 386.2 C370.2 386.7 374.3 386.8 378.5 386.9 C382.7 386.9 386.8 386.9 391.0 386.9"/>
<path d="M320.0 386.2 C324.9 386.5 329.8 386.4 334.8 386.9 C338.9 387.3 343.1 388.1 347.2 388.8 C351.4 389.4 355.6 390.3 359.8 391.0 C363.9 391.7 368.1 392.4 372.2 392.8 C376.4 393.1 380.6 393.1 384.8 393.1 C386.8 393.1 388.9 392.7 391.0 392.5"/>
<path d="M320.0 403.8 C322.8 403.1 325.7 402.7 328.5 401.9 C332.7 400.6 336.8 398.8 341.0 397.5 C345.2 396.2 349.3 394.7 353.5 394.0 C357.7 393.3 361.8 393.1 366.0 393.1 C370.2 393.3 374.3 394.1 378.5 395.0 C381.0 395.5 383.5 396.8 386.0 397.5 C387.7 398.0 389.3 398.3 391.0 398.8"/>
<path d="M378.5 398.8 C381.0 397.5 383.5 395.9 386.0 395.0 C387.7 394.4 389.3 394.3 391.0 394.0"/>
<path d="M320.0 414.2 C322.0 413.1 324.0 411.8 326.0 410.8 C328.2 409.8 330.4 408.9 332.7 408.3 C335.4 407.6 338.2 407.6 341.0 407.1 C345.2 406.3 349.3 405.4 353.5 404.6 C357.7 403.8 361.8 402.9 366.0 402.1 C369.3 401.4 372.7 400.7 376.0 400.0 C378.0 399.6 380.0 399.0 382.0 398.5"/>
<path d="M320.0 406.7 C322.8 407.1 325.7 407.6 328.5 407.9 C332.7 408.4 336.8 408.6 341.0 409.2 C343.8 409.6 346.6 410.4 349.3 410.8 C352.1 411.2 354.9 411.6 357.7 411.7 C360.4 411.7 363.2 411.5 366.0 411.2 C368.8 411.0 371.6 410.7 374.3 410.4 C376.9 410.1 379.4 409.7 382.0 409.4"/>
<path d="M320.0 413.3 C321.4 414.3 322.9 415.3 324.3 416.2 C326.6 417.8 328.8 419.3 331.0 420.8 C332.9 422.2 334.9 423.7 336.8 425.0 C338.2 425.9 339.6 426.9 341.0 427.5 C342.4 428.1 343.8 428.7 345.2 428.8 C347.9 428.8 350.7 428.4 353.5 427.9 C356.3 427.4 359.1 426.9 361.8 425.8 C364.6 424.8 367.4 423.2 370.2 421.7 C372.9 420.1 375.7 418.1 378.5 416.7 C379.7 416.1 380.8 415.9 382.0 415.4"/>
<path d="M320.0 419.2 C322.8 419.0 325.7 419.2 328.5 418.8 C331.3 418.3 334.1 417.3 336.8 416.7 C339.6 416.0 342.4 415.6 345.2 415.0 C347.9 414.4 350.7 413.4 353.5 412.9 C356.3 412.4 359.1 412.4 361.8 412.1 C363.2 411.9 364.6 411.8 366.0 411.7"/>
<path d="M320.0 420.0 C322.8 420.1 325.7 420.2 328.5 420.4 C331.3 420.6 334.1 420.9 336.8 421.2 C339.6 421.6 342.4 422.3 345.2 422.5 C347.1 422.5 349.1 422.5 351.0 422.1 C353.2 421.6 355.4 420.7 357.7 419.6 C359.9 418.5 362.1 416.8 364.3 415.4 C366.3 414.2 368.2 412.8 370.2 411.7 C372.1 410.5 374.1 409.4 376.0 408.3 C377.9 407.2 379.9 406.1 381.8 405.0"/>
<path d="M320.0 428.5 C321.4 428.6 322.9 428.5 324.3 428.8 C327.1 429.3 329.9 430.7 332.7 431.2 C335.4 431.8 338.2 432.0 341.0 432.1 C346.6 432.1 352.1 432.1 357.7 432.1 C363.2 432.0 368.8 431.8 374.3 431.7 C376.9 431.7 379.4 431.7 382.0 431.7"/>
<path d="M320.0 433.3 C324.2 433.2 328.4 433.1 332.7 432.9 C335.4 432.8 338.2 432.6 341.0 432.5"/>
<path d="M320.0 435.0 C322.8 435.0 325.7 435.0 328.5 435.0 C331.3 434.9 334.1 434.4 336.8 434.2 C339.6 433.9 342.4 433.5 345.2 433.3 C347.9 433.1 350.7 433.1 353.5 432.9"/>
<path d="M320.0 436.7 C324.2 436.8 328.4 436.9 332.7 437.1 C336.8 437.3 341.0 437.5 345.2 437.9 C347.9 438.2 350.7 439.0 353.5 439.2 C356.3 439.2 359.1 439.0 361.8 438.8 C364.6 438.5 367.4 437.7 370.2 437.5 C372.9 437.5 375.7 437.5 378.5 437.5 C379.7 437.6 380.8 438.1 382.0 438.4"/>
<path d="M341.0 432.1 C343.8 433.3 346.6 434.4 349.3 435.8 C351.6 437.0 353.8 438.7 356.0 440.0 C357.9 441.2 359.9 442.4 361.8 443.3 C363.8 444.2 365.7 445.1 367.7 445.4 C369.9 445.4 372.1 445.4 374.3 445.4 C376.9 445.1 379.4 444.4 382.0 443.9"/>
<path d="M328.5 451.7 C331.3 450.8 334.1 450.3 336.8 449.2 C339.6 448.1 342.4 446.4 345.2 445.0 C347.4 443.9 349.6 442.7 351.8 441.7 C353.2 441.0 354.6 440.4 356.0 440.0 C357.9 439.4 359.9 439.2 361.8 438.8"/>
<path d="M320.0 452.1 C324.2 452.1 328.4 452.1 332.7 452.1 C335.4 452.0 338.2 452.0 341.0 451.7 C343.8 451.3 346.6 450.5 349.3 450.0 C352.1 449.5 354.9 448.9 357.7 448.8 C360.4 448.8 363.2 448.8 366.0 449.2 C368.2 449.7 370.4 451.4 372.7 452.5 C374.6 453.5 376.6 454.7 378.5 455.4 C379.7 455.8 380.8 455.8 382.0 455.9"/>
<path d="M320.0 454.2 C324.2 454.2 328.4 454.2 332.7 454.2 C336.8 454.0 341.0 453.3 345.2 453.3 C349.3 453.3 353.5 453.8 357.7 454.2 C361.8 454.5 366.0 455.0 370.2 455.4 C374.1 455.8 378.1 456.2 382.0 456.6"/>
<path d="M380.0 406.1 C380.3 405.9 380.7 405.6 381.0 405.4 C382.9 404.3 384.9 403.1 386.8 402.1 C388.2 401.4 389.6 401.0 391.0 400.4"/>
<path d="M380.0 409.8 C381.4 409.5 382.9 408.9 384.3 408.8 C388.5 408.4 392.7 408.4 396.8 408.3 C401.0 408.3 405.2 408.3 409.3 408.3 C412.1 408.5 414.9 408.8 417.7 409.6 C419.9 410.2 422.1 411.4 424.3 412.5 C426.3 413.5 428.2 414.8 430.2 415.8 C432.1 416.9 434.1 417.9 436.0 418.8 C438.2 419.7 440.4 420.6 442.7 421.2 C443.4 421.5 444.2 421.4 445.0 421.5"/>
<path d="M380.0 412.1 C382.8 411.8 385.7 411.4 388.5 411.2 C392.7 411.0 396.8 410.9 401.0 410.8 C405.2 410.8 409.3 410.8 413.5 410.8 C417.7 410.8 421.8 410.6 426.0 410.4 C430.2 410.2 434.3 409.8 438.5 409.6 C440.7 409.6 442.8 409.6 445.0 409.6"/>
<path d="M380.0 416.8 C380.3 416.6 380.7 416.4 381.0 416.2 C382.9 415.6 384.9 414.8 386.8 414.6 C390.2 414.6 393.5 414.6 396.8 414.6 C399.6 414.8 402.4 415.3 405.2 415.8 C407.9 416.4 410.7 417.4 413.5 417.9 C416.0 418.4 418.5 418.8 421.0 418.8 C422.7 418.6 424.3 417.8 426.0 417.1 C427.7 416.4 429.3 415.3 431.0 414.6 C432.7 413.8 434.3 413.1 436.0 412.5 C437.7 411.9 439.3 411.4 441.0 410.8"/>
<path d="M380.0 431.9 C382.8 431.9 385.7 431.7 388.5 431.7 C392.7 431.7 396.8 432.1 401.0 432.1 C402.4 432.0 403.8 431.5 405.2 430.8 C407.1 429.9 409.1 428.7 411.0 427.5 C413.2 426.2 415.4 424.6 417.7 423.3 C418.8 422.7 419.9 421.9 421.0 421.8 C423.2 421.8 425.4 422.1 427.7 422.5 C429.9 422.9 432.1 424.0 434.3 424.2 C437.1 424.2 439.9 423.6 442.7 423.3 C443.4 423.3 444.2 423.1 445.0 423.1"/>
<path d="M380.0 432.9 C384.2 432.9 388.4 432.9 392.7 432.9 C396.8 432.9 401.0 432.9 405.2 432.9 C407.9 433.2 410.7 434.8 413.5 435.4 C416.0 436.0 418.5 436.7 421.0 436.7 C423.2 436.7 425.4 436.0 427.7 435.4 C429.9 434.8 432.1 433.5 434.3 432.9 C437.1 432.1 439.9 431.7 442.7 431.2 C443.4 431.2 444.2 431.3 445.0 431.4"/>
<path d="M380.0 438.5 C380.9 438.7 381.8 438.9 382.7 439.2 C384.6 439.7 386.6 440.7 388.5 440.8 C391.3 440.8 394.1 440.3 396.8 440.0 C399.6 439.7 402.4 439.5 405.2 439.2 C407.9 438.8 410.7 438.4 413.5 437.9 C416.0 437.5 418.5 437.1 421.0 436.7"/>
<path d="M380.0 441.2 C381.4 441.4 382.9 441.7 384.3 441.7 C387.1 441.7 389.9 441.3 392.7 441.2 C396.8 441.2 401.0 441.2 405.2 441.2 C409.3 441.3 413.5 441.2 417.7 441.7 C420.4 441.9 423.2 442.7 426.0 443.3 C428.8 444.0 431.6 445.1 434.3 445.4 C437.1 445.4 439.9 445.4 442.7 445.4 C443.4 445.4 444.2 445.4 445.0 445.3"/>
<path d="M380.0 443.9 C380.9 443.9 381.8 443.8 382.7 443.8 C384.6 443.6 386.6 443.3 388.5 443.3 C391.3 443.4 394.1 443.7 396.8 444.2 C399.6 444.7 402.4 445.6 405.2 446.2 C407.9 446.9 410.7 447.6 413.5 447.9 C416.3 447.9 419.1 447.9 421.8 447.9 C424.6 447.6 427.4 446.7 430.2 446.2 C432.1 445.9 434.1 445.7 436.0 445.4"/>
<path d="M380.0 454.9 C380.1 455.0 380.1 455.0 380.2 455.0 C382.9 455.2 385.7 455.4 388.5 455.4 C392.7 455.2 396.8 454.8 401.0 454.2 C403.8 453.7 406.6 452.8 409.3 452.1 C412.1 451.3 414.9 450.2 417.7 449.6 C420.4 449.0 423.2 448.5 426.0 448.3 C428.8 448.3 431.6 448.3 434.3 448.8 C437.1 449.4 439.9 451.5 442.7 452.5 C443.4 452.6 444.2 452.6 445.0 452.6"/>
<path d="M380.0 457.6 C382.8 457.7 385.7 457.9 388.5 457.9 C392.7 457.9 396.8 457.7 401.0 457.5 C403.8 457.4 406.6 457.2 409.3 457.1 C412.1 456.9 414.9 456.7 417.7 456.7 C420.4 456.7 423.2 457.4 426.0 457.5 C428.8 457.5 431.6 457.5 434.3 457.5 C436.6 457.1 438.8 456.0 441.0 455.0 C442.1 454.5 443.2 453.6 444.3 452.9"/>
<path d="M320.0 558.1 C322.0 555.0 324.0 551.9 326.0 548.8 C328.9 544.2 331.8 539.4 334.8 535.0 C337.7 530.6 340.6 526.1 343.5 522.5 C346.0 519.4 348.5 517.3 351.0 515.0 C353.1 513.1 355.2 511.1 357.2 510.0 C360.2 508.4 363.1 508.1 366.0 506.9 C369.3 505.4 372.7 503.2 376.0 501.9 C379.3 500.5 382.7 499.7 386.0 498.8 C387.7 498.3 389.3 497.9 391.0 497.5"/>
<path d="M320.0 558.1 C322.8 554.4 325.7 550.7 328.5 546.9 C332.7 541.3 336.8 534.9 341.0 530.0 C345.2 525.1 349.3 521.3 353.5 517.5 C356.0 515.2 358.5 513.2 361.0 511.9 C363.5 510.5 366.0 509.7 368.5 509.4 C371.0 509.4 373.5 509.5 376.0 509.8 C381.0 510.2 386.0 510.8 391.0 511.2"/>
<path d="M320.0 558.1 C322.8 555.0 325.7 551.8 328.5 548.8 C332.7 544.3 336.8 539.6 341.0 535.6 C345.2 531.7 349.3 528.3 353.5 525.0 C357.7 521.7 361.8 518.6 366.0 515.6 C369.3 513.2 372.7 511.0 376.0 508.8 C379.3 506.5 382.7 504.1 386.0 501.9 C387.7 500.8 389.3 499.9 391.0 499.0"/>
<path d="M381.0 495.0 L391.0 497.5"/>
<path d="M386.0 498.8 L391.0 496.2"/>
<path d="M388.5 498.8 L391.0 497.5"/>
<path d="M320.0 488.1 C324.9 487.7 329.8 487.3 334.8 486.9 C338.9 486.5 343.1 485.6 347.2 485.6 C351.4 485.6 355.6 486.1 359.8 486.9 C363.9 487.6 368.1 488.7 372.2 490.0 C375.2 490.9 378.1 492.4 381.0 493.8 C383.5 494.9 386.0 496.2 388.5 497.5 C389.3 497.9 390.2 498.5 391.0 499.0"/>
<path d="M320.0 490.6 C327.0 490.6 334.0 490.6 341.0 490.6 C347.2 490.8 353.5 491.5 359.8 491.9 C363.9 492.1 368.1 492.3 372.2 492.5 C376.4 492.7 380.6 493.1 384.8 493.1 C386.8 493.1 388.9 492.7 391.0 492.5"/>
<path d="M320.0 486.1 C322.8 485.9 325.7 486.1 328.5 485.6 C332.7 484.9 336.8 483.5 341.0 482.5 C345.2 481.5 349.3 480.2 353.5 479.4 C357.7 478.5 361.8 478.1 366.0 477.5 C370.2 476.9 374.3 476.2 378.5 475.6 C382.7 475.0 386.8 474.4 391.0 473.8"/>
<path d="M320.0 474.0 C324.9 474.5 329.8 474.9 334.8 475.6 C338.9 476.2 343.1 477.4 347.2 477.8 C351.4 477.8 355.6 477.8 359.8 477.8 C363.9 477.5 368.1 476.9 372.2 476.2 C375.2 475.8 378.1 474.9 381.0 474.4 C384.3 473.8 387.7 473.5 391.0 473.1"/>
<path d="M320.0 467.5 C327.0 467.5 334.0 467.5 341.0 467.5 C345.2 467.6 349.3 467.7 353.5 468.1 C357.7 468.5 361.8 469.4 366.0 470.0 C370.2 470.6 374.3 471.7 378.5 471.9 C382.7 471.9 386.8 471.5 391.0 471.2"/>
<path d="M320.0 465.2 C322.8 464.9 325.7 464.7 328.5 464.4 C332.7 463.8 336.8 463.1 341.0 462.5 C345.2 461.9 349.3 461.4 353.5 460.6 C357.7 459.9 361.8 458.8 366.0 458.1 C370.2 457.5 374.3 457.1 378.5 456.9 C382.7 456.9 386.8 456.9 391.0 456.9"/>
<path d="M320.0 461.1 C324.9 461.0 329.8 460.6 334.8 460.6 C341.0 460.6 347.2 461.2 353.5 461.2 C357.7 461.2 361.8 460.3 366.0 460.0 C370.2 459.7 374.3 459.4 378.5 459.4 C382.7 459.8 386.8 461.5 391.0 462.5"/>
<path d="M320.0 452.5 C322.8 452.5 325.7 452.5 328.5 452.5 C332.7 452.3 336.8 451.8 341.0 451.2 C345.2 450.7 349.3 449.7 353.5 449.4 C356.8 449.4 360.2 449.4 363.5 449.4 C366.0 449.7 368.5 450.7 371.0 451.9 C373.5 453.0 376.0 455.2 378.5 456.2 C381.0 457.3 383.5 457.9 386.0 458.1 C387.7 458.1 389.3 457.8 391.0 457.6"/>
<path d="M320.0 454.4 C324.9 454.4 329.8 454.4 334.8 454.4 C341.0 454.6 347.2 455.0 353.5 455.6 C357.7 456.0 361.8 457.0 366.0 457.5 C370.2 458.0 374.3 458.3 378.5 458.8"/>
<path d="M331.0 451.2 C334.3 450.0 337.7 448.7 341.0 447.5 C343.5 446.6 346.0 445.8 348.5 445.0"/>
<path d="M445.0 371.5 C449.2 371.0 453.3 370.7 457.5 370.0 C461.7 369.3 465.8 368.3 470.0 367.5 C475.0 366.6 480.0 365.8 485.0 365.0"/>
<path d="M445.0 376.2 C449.2 376.5 453.3 376.9 457.5 376.9 C463.8 376.8 470.0 376.1 476.2 375.6 C482.5 375.1 488.8 374.1 495.0 373.8 C502.3 373.3 509.7 373.3 517.0 373.1 C518.0 373.1 519.0 373.2 520.0 373.2"/>
<path d="M445.0 391.9 C449.2 390.8 453.3 389.9 457.5 388.8 C461.7 387.6 465.8 386.1 470.0 385.0 C474.2 383.9 478.3 382.5 482.5 381.9 C486.7 381.2 490.8 381.2 495.0 381.2 C502.3 381.4 509.7 382.1 517.0 382.5 C518.0 382.6 519.0 382.6 520.0 382.7"/>
<path d="M445.0 398.8 C449.2 399.4 453.3 400.0 457.5 400.6 C461.7 401.2 465.8 402.1 470.0 402.5 C474.2 402.9 478.3 403.1 482.5 403.1 C486.7 403.1 490.8 403.1 495.0 402.5 C499.2 401.9 503.3 400.1 507.5 399.4 C510.7 398.8 513.8 398.7 517.0 398.5 C518.0 398.5 519.0 398.7 520.0 398.8"/>
<path d="M445.0 409.4 C447.5 410.0 450.0 410.2 452.5 411.2 C455.4 412.5 458.3 414.6 461.2 416.2 C464.2 417.9 467.1 419.8 470.0 421.2 C473.3 422.9 476.7 424.5 480.0 425.6 C483.3 426.8 486.7 427.4 490.0 428.1 C493.8 428.9 497.5 429.3 501.2 430.0 C504.2 430.5 507.1 431.4 510.0 431.9 C512.3 432.2 514.7 432.5 517.0 432.5 C518.0 432.5 519.0 432.1 520.0 431.9"/>
<path d="M445.0 422.5 C449.2 422.3 453.3 422.0 457.5 421.9 C461.7 421.9 465.8 421.9 470.0 421.9 C474.2 421.7 478.3 421.0 482.5 420.6 C488.8 420.0 495.0 419.0 501.2 418.8 C506.5 418.8 511.8 418.9 517.0 419.0 C518.0 419.0 519.0 419.0 520.0 418.9"/>
<path d="M445.0 411.9 C447.1 412.1 449.2 412.1 451.2 412.5 C453.3 412.9 455.4 413.8 457.5 414.4"/>
<path d="M445.0 422.9 L451.2 422.2"/>
<path d="M445.0 430.6 C449.2 431.2 453.3 432.2 457.5 432.5 C461.7 432.5 465.8 432.5 470.0 432.5 C473.3 432.3 476.7 431.2 480.0 431.2 C483.3 431.5 486.7 433.0 490.0 433.8 C493.8 434.6 497.5 435.9 501.2 436.2 C506.5 436.5 511.8 436.2 517.0 436.5 C518.0 436.6 519.0 437.0 520.0 437.2"/>
<path d="M445.0 444.4 C451.2 444.2 457.5 443.8 463.8 443.8 C470.0 443.8 476.2 444.4 482.5 444.4 C488.8 444.0 495.0 441.9 501.2 441.2 C506.5 440.7 511.8 440.8 517.0 440.6 C518.0 440.6 519.0 440.7 520.0 440.7"/>
<path d="M445.0 451.9 C451.2 451.9 457.5 451.9 463.8 451.9 C470.0 451.8 476.2 451.6 482.5 451.2 C488.8 450.9 495.0 450.3 501.2 450.0 C506.5 449.7 511.8 449.4 517.0 449.4 C518.0 449.4 519.0 449.6 520.0 449.7"/>
<path d="M445.0 452.5 C453.3 452.5 461.7 452.5 470.0 452.5 C478.3 452.3 486.7 451.7 495.0 451.2 C502.3 450.9 509.7 450.3 517.0 450.0 C518.0 450.0 519.0 450.2 520.0 450.4"/>
<path d="M445.0 461.0 C451.2 461.3 457.5 461.9 463.8 461.9 C470.0 461.6 476.2 459.9 482.5 459.4 C488.8 458.8 495.0 458.7 501.2 458.5 C506.5 458.5 511.8 458.5 517.0 458.5 C518.0 458.5 519.0 458.4 520.0 458.3"/>
<path d="M445.0 465.0 C451.2 465.2 457.5 465.0 463.8 465.6 C467.9 466.0 472.1 467.5 476.2 468.1 C482.5 469.1 488.8 470.1 495.0 470.6 C502.3 471.2 509.7 471.1 517.0 471.2 C518.0 471.2 519.0 471.2 520.0 471.2"/>
<path d="M445.0 475.0 C453.3 475.2 461.7 475.1 470.0 475.6 C478.3 476.1 486.7 477.7 495.0 478.1 C502.3 478.1 509.7 478.1 517.0 478.1 C518.0 478.1 519.0 478.4 520.0 478.5"/>
<path d="M445.0 499.4 C451.2 499.2 457.5 498.8 463.8 498.8 C467.9 498.9 472.1 500.0 476.2 500.6 C482.5 501.5 488.8 502.6 495.0 503.1 C502.3 503.7 509.7 503.6 517.0 503.8 C518.0 503.8 519.0 503.6 520.0 503.5"/>
<path d="M445.0 505.0 C451.2 504.8 457.5 504.5 463.8 504.4 C467.9 504.4 472.1 504.4 476.2 504.4 C479.2 504.8 482.1 505.9 485.0 507.5 C488.3 509.3 491.7 512.2 495.0 514.4 C499.2 517.0 503.3 520.1 507.5 521.9 C510.7 523.2 513.8 523.4 517.0 523.8 C518.0 523.8 519.0 523.5 520.0 523.3"/>
<path d="M520.0 373.4 C528.5 373.6 537.0 373.7 545.5 374.0 C553.8 374.3 562.2 374.6 570.5 375.0 C574.7 375.2 578.8 375.6 583.0 375.9"/>
<path d="M520.0 382.5 C524.3 382.4 528.7 382.2 533.0 382.2 C537.2 382.5 541.3 383.1 545.5 383.8 C549.7 384.4 553.8 385.5 558.0 386.2 C562.2 387.0 566.3 387.8 570.5 388.1 C574.7 388.1 578.8 388.1 583.0 388.1"/>
<path d="M520.0 398.9 C522.2 399.1 524.5 399.0 526.8 399.4 C530.9 400.0 535.1 401.4 539.2 401.9 C543.4 402.2 547.6 402.2 551.8 402.2 C555.9 402.0 560.1 400.9 564.2 400.6 C570.5 400.2 576.8 400.2 583.0 400.0"/>
<path d="M520.0 418.7 C522.2 418.5 524.5 418.4 526.8 418.1 C530.9 417.5 535.1 416.3 539.2 416.0 C545.5 415.6 551.8 415.6 558.0 415.6 C562.2 415.6 566.3 415.9 570.5 416.0 C574.7 416.1 578.8 416.3 583.0 416.5"/>
<path d="M520.0 431.5 C521.4 431.0 522.8 430.5 524.2 430.0 C527.2 429.0 530.1 427.8 533.0 426.9 C537.2 425.5 541.3 424.1 545.5 423.1 C548.8 422.4 552.2 421.9 555.5 421.9 C558.4 421.9 561.3 422.9 564.2 423.1 C568.4 423.5 572.6 423.6 576.8 423.8 C578.8 423.8 580.9 423.8 583.0 423.8"/>
<path d="M520.0 436.4 C521.4 436.8 522.8 437.2 524.2 437.5 C527.2 438.2 530.1 439.3 533.0 439.4 C536.3 439.4 539.7 438.9 543.0 438.1 C545.9 437.4 548.8 436.0 551.8 435.0 C555.9 433.5 560.1 431.9 564.2 430.6 C567.6 429.6 570.9 428.6 574.2 428.1 C577.2 428.1 580.1 428.1 583.0 428.1"/>
<path d="M520.0 441.0 C520.2 441.0 520.3 441.0 520.5 441.0 C524.7 441.1 528.8 441.0 533.0 441.2 C537.2 441.7 541.3 443.0 545.5 443.8 C549.7 444.5 553.8 445.1 558.0 445.6 C562.2 446.1 566.3 446.6 570.5 446.9 C574.7 447.2 578.8 447.3 583.0 447.5"/>
<path d="M520.0 450.1 C520.2 450.0 520.3 450.0 520.5 450.0 C524.7 450.4 528.8 450.6 533.0 451.2 C537.2 451.9 541.3 453.1 545.5 453.8 C549.7 454.4 553.8 454.8 558.0 455.2"/>
<path d="M520.0 450.2 C522.2 450.3 524.5 450.3 526.8 450.6 C530.9 451.3 535.1 452.4 539.2 453.1 C543.4 453.9 547.6 454.8 551.8 455.0 C558.0 455.0 564.2 455.0 570.5 455.0 C574.7 454.9 578.8 454.6 583.0 454.4"/>
<path d="M520.0 458.3 C524.3 458.0 528.7 457.6 533.0 457.5 C537.2 457.5 541.3 457.5 545.5 457.5 C549.7 457.7 553.8 458.3 558.0 458.8 C562.2 459.2 566.3 459.7 570.5 460.0 C574.7 460.3 578.8 460.4 583.0 460.6"/>
<path d="M520.0 471.2 C526.4 471.2 532.8 471.2 539.2 471.2 C545.5 471.2 551.8 471.2 558.0 471.2 C560.9 471.1 563.8 470.2 566.8 469.4 C569.7 468.5 572.6 466.9 575.5 466.2 C578.0 465.7 580.5 465.8 583.0 465.6"/>
<path d="M520.0 478.5 C522.2 478.8 524.5 479.2 526.8 479.4 C530.9 479.7 535.1 480.0 539.2 480.0 C543.4 479.7 547.6 478.3 551.8 477.5 C555.9 476.7 560.1 475.6 564.2 475.0 C568.4 474.4 572.6 474.1 576.8 474.0 C578.8 474.0 580.9 474.2 583.0 474.4"/>
<path d="M520.0 503.4 C524.3 502.9 528.7 502.6 533.0 501.9 C539.2 500.8 545.5 499.4 551.8 498.1 C555.9 497.3 560.1 496.2 564.2 495.6 C568.4 495.1 572.6 494.9 576.8 494.8 C578.8 494.8 580.9 494.9 583.0 495.0"/>
<path d="M520.0 523.2 C521.4 523.0 522.8 523.0 524.2 522.5 C527.2 521.5 530.1 520.0 533.0 518.8 C537.2 516.9 541.3 514.6 545.5 513.1 C549.7 511.7 553.8 510.6 558.0 510.0 C562.2 509.4 566.3 509.5 570.5 509.4 C574.7 509.2 578.8 509.1 583.0 509.0"/>
<path d="M637.0 509.9 C638.8 510.0 640.7 509.9 642.5 510.2 C645.0 510.9 647.5 511.8 650.0 513.1 C652.5 514.4 655.0 516.2 657.5 518.1 C660.8 520.6 664.2 523.4 667.5 526.2 C670.8 529.1 674.2 532.0 677.5 535.0 C681.7 538.7 685.8 542.5 690.0 546.2 C694.5 550.3 699.0 554.2 703.5 558.1"/>
<path d="M637.0 511.4 C638.0 511.6 639.0 511.5 640.0 511.9 C642.5 512.7 645.0 513.7 647.5 515.0 C650.8 516.8 654.2 519.0 657.5 521.2 C660.8 523.5 664.2 526.1 667.5 528.8 C670.8 531.4 674.2 534.1 677.5 536.9 C681.7 540.3 685.8 544.1 690.0 547.5 C694.5 551.2 699.0 554.6 703.5 558.1"/>
<path d="M637.0 500.2 C642.2 500.4 647.3 500.3 652.5 500.6 C655.8 500.8 659.2 501.1 662.5 501.9 C664.6 502.4 666.7 503.1 668.8 504.4 C670.8 505.6 672.9 507.1 675.0 509.4 C677.1 511.7 679.2 514.9 681.2 518.1 C683.3 521.4 685.4 525.1 687.5 528.8 C689.6 532.4 691.7 536.1 693.8 540.0 C695.8 543.9 697.9 548.0 700.0 551.9 C701.2 554.0 702.3 556.0 703.5 558.1"/>
<path d="M120.0 175.8 C138.0 175.8 156.0 175.9 174.0 175.9 C189.3 175.9 204.7 175.8 220.0 175.8"/>
<path d="M120.0 176.0 C138.0 176.0 156.0 176.1 174.0 176.1 C189.3 176.1 204.7 176.0 220.0 176.0"/>
<path d="M220.0 175.8 C224.4 175.0 228.9 174.1 233.3 173.3 C238.9 172.4 244.4 171.4 250.0 170.8 C255.6 170.2 261.1 170.0 266.7 169.7 C269.1 169.5 271.6 169.5 274.0 169.5 C282.7 169.7 291.3 170.1 300.0 170.3 C306.4 170.5 312.9 170.7 319.3 170.8"/>
<path d="M320.0 168.3 C327.2 168.4 334.4 168.5 341.7 168.7 C347.8 168.8 353.9 169.0 360.0 169.2"/>
<path d="M220.0 175.8 C224.4 176.6 228.9 177.6 233.3 178.0 C237.8 178.3 242.2 178.3 246.7 178.3 C253.3 178.3 260.0 178.2 266.7 178.0 C269.1 177.9 271.6 177.8 274.0 177.7 C282.7 177.3 291.3 177.0 300.0 176.7 C306.7 176.4 313.3 175.9 320.0 175.8 C327.2 175.8 334.4 176.1 341.7 176.2 C347.8 176.2 353.9 176.3 360.0 176.3"/>
<path d="M340.0 169.2 C348.3 169.3 356.7 169.4 365.0 169.5 C373.7 169.6 382.3 169.5 391.0 169.7 C396.2 169.8 401.4 170.2 406.7 170.8 C411.1 171.4 415.6 172.5 420.0 173.3 C424.4 174.2 428.9 175.2 433.3 175.8 C437.2 176.4 441.1 176.6 445.0 176.7 C463.3 176.7 481.7 176.4 500.0 176.3"/>
<path d="M340.0 176.3 C348.3 176.4 356.7 176.5 365.0 176.7 C373.7 176.8 382.3 176.9 391.0 177.2 C399.0 177.4 407.0 178.0 415.0 178.0 C421.1 178.0 427.2 177.6 433.3 177.3 C437.2 177.2 441.1 176.7 445.0 176.7 C463.3 176.5 481.7 176.6 500.0 176.5"/>
<path d="M483.3 176.3 C505.6 176.4 527.8 176.6 550.0 176.7 C561.0 176.7 572.0 176.7 583.0 176.7 C588.7 176.4 594.3 175.0 600.0 174.2 C605.6 173.4 611.1 172.5 616.7 172.0 C623.4 171.5 630.2 171.2 637.0 171.2 C644.1 171.2 651.2 171.6 658.3 172.0 C666.7 172.4 675.0 173.2 683.3 173.7 C690.2 174.1 697.1 174.3 704.0 174.7"/>
<path d="M483.3 176.5 C505.6 176.7 527.8 176.9 550.0 177.0 C561.0 177.0 572.0 177.0 583.0 177.0 C587.6 177.1 592.1 177.9 596.7 178.0 C603.3 178.0 610.0 177.7 616.7 177.5 C623.4 177.3 630.2 177.1 637.0 177.0 C646.9 176.8 656.8 176.8 666.7 176.7 C679.1 176.5 691.6 176.3 704.0 176.2"/>
<path d="M391.0 217.1 C394.9 217.4 398.8 217.3 402.7 217.9 C405.4 218.3 408.2 219.3 411.0 220.0 C413.8 220.7 416.6 221.6 419.3 222.3 C422.1 223.1 424.9 223.9 427.7 224.6 C430.4 225.2 433.2 225.8 436.0 226.2 C439.0 226.7 442.0 226.8 445.0 227.1"/>
<path d="M391.0 227.9 C394.9 228.1 398.8 228.2 402.7 228.3 C406.8 228.5 411.0 228.7 415.2 228.8 C419.3 228.8 423.5 228.8 427.7 228.5 C430.4 228.3 433.2 227.9 436.0 227.5 C437.7 227.3 439.3 226.7 441.0 226.7 C442.3 226.7 443.7 226.9 445.0 227.1"/>
<path d="M391.0 228.8 C393.5 228.9 396.0 229.0 398.5 229.3 C401.3 229.7 404.1 230.2 406.8 230.8 C409.6 231.4 412.4 232.2 415.2 232.9 C417.9 233.7 420.7 234.7 423.5 235.4 C426.3 236.2 429.1 237.0 431.8 237.5 C434.6 238.0 437.4 238.1 440.2 238.3 C441.8 238.5 443.4 238.4 445.0 238.5"/>
<path d="M391.0 228.5 C394.9 228.7 398.8 228.6 402.7 229.0 C405.4 229.3 408.2 229.9 411.0 230.4 C413.8 230.9 416.6 231.3 419.3 232.1 C422.1 232.8 424.9 234.1 427.7 235.0 C430.4 235.9 433.2 236.9 436.0 237.5 C438.8 238.1 441.6 238.1 444.3 238.3"/>
<path d="M391.0 238.3 C397.7 238.5 404.3 238.6 411.0 238.8 C416.6 238.9 422.1 239.1 427.7 239.2 C433.4 239.2 439.2 239.2 445.0 239.2"/>
<path d="M391.0 239.6 C397.7 239.7 404.3 239.7 411.0 239.8 C416.6 239.9 422.1 240.1 427.7 240.2 C433.4 240.2 439.2 240.1 445.0 240.0"/>
<path d="M391.0 250.4 C394.9 250.6 398.8 250.8 402.7 250.8 C406.8 250.8 411.0 250.8 415.2 250.4 C417.9 250.1 420.7 249.4 423.5 248.8 C426.3 248.1 429.1 247.3 431.8 246.7 C434.6 246.1 437.4 245.6 440.2 245.2 C441.8 244.9 443.4 244.9 445.0 244.8"/>
<path d="M391.0 251.2 C394.9 251.3 398.8 251.4 402.7 251.4 C406.8 251.4 411.0 251.4 415.2 251.0 C417.9 250.7 420.7 250.0 423.5 249.3 C426.3 248.7 429.1 247.9 431.8 247.2 C434.6 246.6 437.4 246.1 440.2 245.7 C441.8 245.4 443.4 245.3 445.0 245.2"/>
<path d="M391.0 257.7 C393.5 257.6 396.0 257.7 398.5 257.5 C401.3 257.3 404.1 256.7 406.8 256.2 C409.6 255.8 412.4 255.0 415.2 254.6 C417.9 254.2 420.7 253.8 423.5 253.8 C426.3 253.8 429.1 254.3 431.8 254.6 C434.6 254.9 437.4 255.2 440.2 255.4 C441.8 255.4 443.4 255.4 445.0 255.4"/>
<path d="M391.0 265.0 C392.7 264.9 394.3 265.0 396.0 264.6 C398.2 263.9 400.4 262.8 402.7 261.7 C404.9 260.6 407.1 259.0 409.3 257.9 C411.3 256.9 413.2 256.0 415.2 255.4 C417.1 254.8 419.1 254.6 421.0 254.2"/>
<path d="M391.0 271.2 C393.5 271.0 396.0 270.9 398.5 270.4 C401.3 269.9 404.1 269.0 406.8 268.3 C409.6 267.6 412.4 266.9 415.2 266.2 C417.9 265.6 420.7 264.8 423.5 264.2 C426.3 263.5 429.1 262.9 431.8 262.5 C434.6 262.1 437.4 261.9 440.2 261.7 C441.8 261.5 443.4 261.6 445.0 261.5"/>
<path d="M391.0 273.2 C393.5 272.9 396.0 272.9 398.5 272.5 C401.3 272.0 404.1 271.1 406.8 270.4 C409.6 269.7 412.4 269.1 415.2 268.3 C417.9 267.6 420.7 266.6 423.5 265.8 C426.3 265.1 429.1 264.4 431.8 263.8 C434.6 263.1 437.4 262.5 440.2 262.1 C441.8 261.8 443.4 261.8 445.0 261.7"/>
<path d="M391.0 275.2 C392.7 275.5 394.3 275.6 396.0 276.2 C398.2 277.2 400.4 278.8 402.7 280.0 C405.4 281.5 408.2 283.0 411.0 284.2 C413.8 285.3 416.6 286.3 419.3 287.1 C422.1 287.8 424.9 288.3 427.7 288.8 C430.4 289.2 433.2 289.4 436.0 289.6 C439.0 289.8 442.0 289.8 445.0 289.8"/>
<path d="M391.0 299.2 C393.5 299.2 396.0 299.2 398.5 299.2 C401.3 298.8 404.1 297.8 406.8 297.1 C409.6 296.3 412.4 295.3 415.2 294.6 C417.9 293.8 420.7 293.1 423.5 292.5 C426.3 291.9 429.1 291.2 431.8 290.8 C434.6 290.4 437.4 290.2 440.2 290.0 C441.8 289.9 443.4 289.9 445.0 289.8"/>
<path d="M391.0 300.7 C393.5 300.4 396.0 300.0 398.5 300.0 C401.3 300.0 404.1 300.3 406.8 300.8 C409.6 301.4 412.4 302.3 415.2 303.3 C417.9 304.4 420.7 305.9 423.5 307.1 C426.3 308.3 429.1 309.4 431.8 310.4 C434.6 311.5 437.4 312.5 440.2 313.3 C441.8 313.8 443.4 313.9 445.0 314.2"/>
<path d="M391.0 302.7 C392.7 303.0 394.3 303.1 396.0 303.8 C398.2 304.6 400.4 305.9 402.7 307.1 C405.4 308.5 408.2 310.3 411.0 311.7 C413.8 313.0 416.6 314.1 419.3 315.0 C421.6 315.7 423.8 316.3 426.0 316.7 C428.2 317.0 430.4 317.1 432.7 317.1 C435.2 316.9 437.7 316.3 440.2 315.8 C441.8 315.5 443.4 315.0 445.0 314.6"/>
<path d="M391.0 326.7 C394.9 326.7 398.8 326.7 402.7 326.8 C405.4 327.0 408.2 327.5 411.0 327.9 C413.8 328.4 416.6 329.0 419.3 329.6 C422.1 330.2 424.9 331.1 427.7 331.7 C430.4 332.3 433.2 332.9 436.0 333.2 C439.0 333.5 442.0 333.4 445.0 333.5"/>
<path d="M391.0 335.8 C392.9 335.7 394.9 335.8 396.8 335.4 C398.8 335.1 400.7 334.3 402.7 333.8 C404.9 333.1 407.1 332.3 409.3 331.7 C411.3 331.1 413.2 330.3 415.2 330.0 C417.1 329.8 419.1 329.9 421.0 329.8"/>
<path d="M391.0 349.2 C392.7 349.4 394.3 349.5 396.0 350.0 C398.2 350.7 400.4 351.8 402.7 352.9 C405.4 354.3 408.2 356.0 411.0 357.5 C413.8 359.0 416.6 360.3 419.3 361.7 C422.1 363.0 424.9 364.2 427.7 365.4 C430.4 366.7 433.2 368.0 436.0 369.2 C438.2 370.1 440.4 371.0 442.7 371.7 C443.4 371.8 444.2 371.8 445.0 371.8"/>
<path d="M391.0 376.2 C397.7 376.1 404.3 376.2 411.0 376.0 C416.6 375.8 422.1 375.4 427.7 375.0 C431.0 374.8 434.3 374.7 437.7 374.2 C439.3 373.9 441.0 373.0 442.7 372.5 C443.4 372.3 444.2 372.1 445.0 371.8"/>
<path d="M391.0 378.2 C393.5 378.3 396.0 378.2 398.5 378.5 C401.3 378.8 404.1 379.5 406.8 380.0 C409.6 380.5 412.4 381.2 415.2 381.7 C417.4 382.0 419.6 382.1 421.8 382.3"/>
<path d="M391.0 392.6 C392.1 392.4 393.2 392.4 394.3 392.1 C397.1 391.3 399.9 390.3 402.7 389.2 C405.4 388.0 408.2 386.4 411.0 385.0 C413.8 383.6 416.6 382.2 419.3 380.8 C422.1 379.5 424.9 378.2 427.7 377.1 C430.4 376.0 433.2 375.1 436.0 374.2 C438.2 373.4 440.4 372.8 442.7 372.1"/>
<path d="M394.3 395.0 C397.1 393.9 399.9 392.9 402.7 391.7 C405.4 390.4 408.2 388.8 411.0 387.5 C413.8 386.2 416.6 384.9 419.3 383.8 C422.1 382.6 424.9 381.7 427.7 380.8 C430.4 380.0 433.2 379.4 436.0 378.8 C439.0 378.1 442.0 377.6 445.0 377.1"/>
<path d="M391.0 386.4 C393.5 386.4 396.0 386.4 398.5 386.5 C402.7 386.7 406.8 387.2 411.0 387.5 C413.8 387.7 416.6 387.9 419.3 388.2 C422.1 388.4 424.9 388.7 427.7 389.2 C430.4 389.7 433.2 390.6 436.0 391.2 C438.8 391.9 441.6 392.4 444.3 392.9 C444.6 392.9 444.8 392.9 445.0 392.8"/>
<path d="M391.0 395.3 C393.5 395.5 396.0 395.6 398.5 395.8 C402.7 396.3 406.8 397.2 411.0 397.5 C415.2 397.8 419.3 397.9 423.5 397.9 C427.7 397.9 431.8 397.5 436.0 397.5 C439.0 397.5 442.0 397.9 445.0 398.1"/>
<path d="M391.0 400.0 C393.5 400.1 396.0 400.4 398.5 400.4 C402.7 400.3 406.8 400.0 411.0 399.6 C413.8 399.3 416.6 398.9 419.3 398.3 C422.1 397.8 424.9 396.9 427.7 396.2 C430.4 395.6 433.2 394.7 436.0 394.2 C438.8 393.6 441.6 393.3 444.3 392.9"/>
<path d="M583.0 368.2 C584.9 368.0 586.9 367.9 588.8 367.4 C591.3 366.8 593.8 365.7 596.3 364.9 C598.6 364.2 600.8 363.6 603.0 362.8 C604.1 362.5 605.2 362.0 606.3 361.6"/>
<path d="M583.0 368.5 C585.5 369.1 588.0 369.6 590.5 370.3 C593.3 371.1 596.1 372.1 598.8 372.8 C601.6 373.5 604.4 374.0 607.2 374.5 C609.9 375.0 612.7 375.4 615.5 375.8 C618.3 376.1 621.1 376.3 623.8 376.3 C626.6 376.3 629.4 376.2 632.2 376.2 C633.8 376.1 635.4 376.1 637.0 376.0"/>
<path d="M583.0 375.3 C585.5 375.5 588.0 375.4 590.5 375.8 C593.3 376.2 596.1 377.1 598.8 377.8 C601.6 378.5 604.4 379.3 607.2 379.9 C609.9 380.5 612.7 381.0 615.5 381.6 C618.3 382.1 621.1 382.8 623.8 383.2 C626.6 383.7 629.4 384.2 632.2 384.3 C633.8 384.3 635.4 384.2 637.0 384.1"/>
<path d="M583.0 376.0 C586.9 376.5 590.8 376.7 594.7 377.4 C597.4 378.0 600.2 379.1 603.0 379.9 C605.2 380.6 607.4 381.2 609.7 382.0 C611.6 382.7 613.6 383.7 615.5 384.5 C617.4 385.3 619.4 386.2 621.3 387.0 C623.6 387.9 625.8 388.9 628.0 389.5 C630.2 390.1 632.4 390.4 634.7 390.8 C635.4 390.8 636.2 390.8 637.0 390.8"/>
<path d="M583.0 388.7 C584.9 388.4 586.9 388.3 588.8 387.8 C591.3 387.2 593.8 386.2 596.3 385.3 C598.6 384.5 600.8 383.7 603.0 382.8 C605.2 382.0 607.4 381.1 609.7 380.3 C611.6 379.6 613.6 378.7 615.5 378.2 C618.3 377.6 621.1 377.3 623.8 377.0 C626.6 376.7 629.4 376.6 632.2 376.3"/>
<path d="M583.0 388.8 C585.5 389.1 588.0 389.1 590.5 389.5 C593.3 389.9 596.1 390.5 598.8 391.2 C601.6 391.8 604.4 392.7 607.2 393.2 C609.9 393.8 612.7 394.3 615.5 394.7 C618.3 395.0 621.1 395.3 623.8 395.3 C626.6 395.3 629.4 395.2 632.2 394.9 C633.8 394.8 635.4 394.4 637.0 394.1"/>
<path d="M583.0 400.2 C584.1 399.7 585.2 399.1 586.3 398.7 C587.7 398.2 589.1 397.6 590.5 397.4 C593.3 397.0 596.1 396.8 598.8 396.8 C603.0 396.8 607.2 397.2 611.3 397.4 C615.5 397.6 619.7 397.8 623.8 397.8 C628.2 397.8 632.6 397.6 637.0 397.4"/>
<path d="M583.0 400.5 C584.7 401.3 586.3 402.0 588.0 402.8 C590.2 403.9 592.4 405.1 594.7 406.2 C596.9 407.2 599.1 408.3 601.3 409.1 C603.3 409.7 605.2 410.2 607.2 410.3 C609.1 410.3 611.1 410.2 613.0 409.9 C615.2 409.5 617.4 408.8 619.7 408.2 C622.4 407.6 625.2 406.6 628.0 406.2 C631.0 405.7 634.0 405.6 637.0 405.3"/>
<path d="M583.0 417.0 C585.5 416.7 588.0 416.6 590.5 416.2 C593.3 415.7 596.1 415.2 598.8 414.5 C601.6 413.8 604.4 412.9 607.2 412.0 C608.6 411.5 609.9 410.9 611.3 410.3"/>
<path d="M588.8 422.2 C590.8 421.3 592.7 420.3 594.7 419.5 C597.4 418.3 600.2 417.1 603.0 416.2 C605.8 415.2 608.6 414.3 611.3 413.7 C614.1 413.0 616.9 412.7 619.7 412.4 C622.4 412.1 625.2 412.1 628.0 412.0 C631.0 411.9 634.0 411.9 637.0 411.8"/>
<path d="M607.2 416.2 C609.9 417.0 612.7 418.0 615.5 418.7 C618.3 419.4 621.1 419.9 623.8 420.3 C626.6 420.8 629.4 420.9 632.2 421.2 C633.8 421.3 635.4 421.4 637.0 421.6"/>
<path d="M637.0 376.0 C638.8 375.8 640.6 375.9 642.3 375.3 C644.6 374.7 646.8 373.6 649.0 372.4 C651.2 371.2 653.4 369.6 655.7 368.2 C657.9 366.9 660.1 365.8 662.3 364.5 C664.0 363.5 665.7 362.6 667.3 361.6"/>
<path d="M637.0 384.1 C638.8 383.8 640.6 383.8 642.3 383.2 C644.6 382.6 646.8 381.6 649.0 380.3 C651.2 379.1 653.4 377.3 655.7 375.8 C657.9 374.2 660.1 372.6 662.3 371.2 C664.6 369.8 666.8 368.5 669.0 367.4 C671.2 366.3 673.4 365.3 675.7 364.5 C677.9 363.7 680.1 363.1 682.3 362.4 C683.4 362.1 684.6 361.9 685.7 361.6"/>
<path d="M637.0 376.0 C640.2 376.2 643.3 376.2 646.5 376.6 C649.3 376.9 652.1 377.7 654.8 378.2 C657.6 378.8 660.4 379.6 663.2 379.9 C665.9 379.9 668.7 379.9 671.5 379.9 C674.3 379.6 677.1 378.6 679.8 377.8 C682.6 377.1 685.4 376.1 688.2 375.3 C690.9 374.6 693.7 373.9 696.5 373.5 C699.0 373.1 701.5 373.1 704.0 372.8"/>
<path d="M637.0 390.8 C641.6 390.8 646.1 390.8 650.7 390.8 C654.8 390.6 659.0 390.3 663.2 389.9 C667.3 389.5 671.5 388.9 675.7 388.5 C679.8 388.1 684.0 387.8 688.2 387.4 C690.9 387.2 693.7 387.0 696.5 386.8 C699.0 386.7 701.5 386.7 704.0 386.6"/>
<path d="M637.0 394.1 C638.8 393.8 640.6 393.5 642.3 393.2 C645.1 392.8 647.9 392.3 650.7 392.0 C653.4 391.7 656.2 391.4 659.0 391.2 C661.8 391.0 664.6 390.9 667.3 390.8"/>
<path d="M669.8 390.8 C671.8 391.9 673.7 393.0 675.7 394.1 C677.9 395.3 680.1 396.6 682.3 397.8 C684.6 399.1 686.8 400.5 689.0 401.6 C691.2 402.7 693.4 403.8 695.7 404.5 C698.4 405.4 701.2 405.9 704.0 406.6"/>
<path d="M637.0 397.4 C638.8 398.0 640.6 398.5 642.3 399.1 C644.6 399.8 646.8 400.6 649.0 401.2 C651.2 401.8 653.4 402.3 655.7 402.7 C658.2 403.0 660.7 403.1 663.2 403.2 C665.9 403.4 668.7 403.4 671.5 403.5 C674.3 403.6 677.1 403.7 679.8 404.1 C682.6 404.5 685.4 404.9 688.2 405.8 C690.9 406.6 693.7 407.8 696.5 409.1 C699.0 410.3 701.5 411.9 704.0 413.2"/>
<path d="M637.0 405.3 C642.9 405.8 648.9 405.8 654.8 406.6 C659.0 407.1 663.2 408.3 667.3 409.1 C670.1 409.6 672.9 410.1 675.7 410.3 C678.4 410.3 681.2 410.3 684.0 410.3 C686.8 410.1 689.6 409.1 692.3 408.7 C696.2 408.0 700.1 407.6 704.0 407.0"/>
<path d="M637.0 405.3 C640.2 405.3 643.3 405.2 646.5 405.2 C650.7 405.3 654.8 405.4 659.0 406.2 C663.2 406.9 667.3 408.2 671.5 409.5 C674.3 410.4 677.1 411.9 679.8 412.8 C682.6 413.8 685.4 414.6 688.2 415.3 C690.9 416.1 693.7 416.7 696.5 417.4 C699.0 418.1 701.5 418.8 704.0 419.5"/>
<path d="M637.0 411.8 C638.2 412.0 639.4 411.9 640.7 412.4 C642.3 413.1 644.0 414.3 645.7 415.3 C647.3 416.4 649.0 417.5 650.7 418.7 C652.3 419.8 654.0 421.0 655.7 422.2"/>
<path d="M684.0 422.2 C686.8 421.3 689.6 420.4 692.3 419.5 C694.6 418.8 696.8 418.1 699.0 417.4 C700.7 416.9 702.3 416.6 704.0 416.2"/>
<path d="M583.0 422.5 C584.1 422.3 585.2 422.3 586.3 422.0 C589.1 421.3 591.9 420.4 594.7 419.5 C596.3 419.0 598.0 418.4 599.7 417.8 C600.8 417.4 601.9 417.0 603.0 416.6"/>
<path d="M607.2 416.2 C608.6 416.7 609.9 417.4 611.3 417.8 C614.1 418.7 616.9 419.3 619.7 419.9 C622.4 420.5 625.2 421.2 628.0 421.6 C631.0 422.0 634.0 422.1 637.0 422.4"/>
<path d="M583.0 424.1 C586.9 424.2 590.8 424.2 594.7 424.5 C598.8 424.8 603.0 425.3 607.2 425.8 C611.3 426.2 615.5 426.9 619.7 427.4 C623.8 427.9 628.0 428.3 632.2 428.7 C633.8 428.8 635.4 428.9 637.0 429.1"/>
<path d="M583.0 427.8 C584.9 428.1 586.9 428.1 588.8 428.7 C590.8 429.2 592.7 430.4 594.7 431.2 C596.9 432.1 599.1 433.0 601.3 433.7 C603.3 434.2 605.2 434.9 607.2 434.9 C609.9 434.9 612.7 434.3 615.5 433.7 C618.3 433.0 621.1 432.0 623.8 431.2 C625.8 430.6 627.7 430.1 629.7 429.5"/>
<path d="M583.0 428.2 C585.5 428.9 588.0 429.2 590.5 430.3 C592.4 431.2 594.4 433.0 596.3 434.1 C598.3 435.2 600.2 436.3 602.2 437.0 C603.8 437.6 605.5 437.8 607.2 437.8 C609.1 437.8 611.1 437.1 613.0 436.6 C615.2 436.0 617.4 435.1 619.7 434.5 C622.4 433.8 625.2 433.2 628.0 432.8 C631.0 432.5 634.0 432.6 637.0 432.4"/>
<path d="M583.0 447.0 C586.9 446.6 590.8 446.4 594.7 445.8 C597.4 445.3 600.2 444.2 603.0 443.7 C605.2 443.3 607.4 443.0 609.7 443.0 C611.6 443.0 613.6 443.4 615.5 443.7 C618.3 444.0 621.1 444.6 623.8 444.9 C628.2 445.3 632.6 445.5 637.0 445.8"/>
<path d="M583.0 447.8 C586.9 447.8 590.8 447.8 594.7 447.8 C596.1 447.9 597.4 448.8 598.8 449.1 C600.8 449.5 602.7 449.9 604.7 449.9 C606.9 449.9 609.1 449.5 611.3 449.1 C613.6 448.7 615.8 447.9 618.0 447.4 C620.2 446.9 622.4 446.6 624.7 446.2"/>
<path d="M583.0 455.8 C584.9 454.8 586.9 453.9 588.8 452.8 C590.8 451.7 592.7 450.2 594.7 449.1 C596.3 448.1 598.0 447.1 599.7 446.6 C601.3 446.0 603.0 445.8 604.7 445.8 C606.3 446.0 608.0 447.1 609.7 447.8 C611.6 448.7 613.6 449.6 615.5 450.3 C617.4 451.1 619.4 451.9 621.3 452.4 C623.6 453.0 625.8 453.4 628.0 453.7 C631.0 454.0 634.0 453.9 637.0 454.1"/>
<path d="M583.0 457.0 C584.7 456.7 586.3 456.6 588.0 456.2 C590.2 455.5 592.4 454.4 594.7 453.7 C597.4 452.7 600.2 451.7 603.0 451.2 C605.8 450.8 608.6 451.0 611.3 450.8 C613.0 450.6 614.7 450.3 616.3 449.9 C618.0 449.5 619.7 448.6 621.3 448.2 C623.6 447.8 625.8 447.7 628.0 447.4"/>
<path d="M583.0 458.7 C585.5 458.5 588.0 458.7 590.5 458.2 C593.3 457.7 596.1 456.5 598.8 455.8 C601.1 455.1 603.3 454.2 605.5 454.1 C607.4 454.1 609.4 454.3 611.3 454.9 C613.3 455.5 615.2 456.9 617.2 457.8 C619.4 458.9 621.6 460.3 623.8 461.2 C626.6 462.2 629.4 463.1 632.2 463.7 C633.8 464.0 635.4 463.9 637.0 464.1"/>
<path d="M583.0 460.3 C584.1 460.3 585.2 460.3 586.3 460.3 C590.5 460.1 594.7 459.8 598.8 459.5 C603.0 459.2 607.2 458.7 611.3 458.2 C613.6 458.0 615.8 457.7 618.0 457.4"/>
<path d="M583.0 465.3 C585.5 465.3 588.0 465.3 590.5 465.3 C594.7 465.6 598.8 466.2 603.0 466.6 C607.2 466.9 611.3 467.3 615.5 467.4 C619.7 467.4 623.8 467.2 628.0 467.0 C631.0 466.9 634.0 466.7 637.0 466.6"/>
<path d="M586.3 458.7 C588.0 459.8 589.7 460.9 591.3 462.0 C593.0 463.1 594.7 464.2 596.3 465.3 C598.0 466.4 599.7 467.6 601.3 468.7 C603.0 469.8 604.7 470.9 606.3 472.0 C608.0 473.1 609.7 474.2 611.3 475.3 C612.2 475.9 613.0 476.6 613.8 477.2"/>
<path d="M583.0 471.0 C584.1 470.8 585.2 470.6 586.3 470.3 C589.1 469.8 591.9 469.0 594.7 468.7 C597.4 468.3 600.2 468.2 603.0 468.2 C607.2 468.3 611.3 468.7 615.5 469.1 C619.7 469.4 623.8 469.9 628.0 470.3 C631.0 470.6 634.0 470.9 637.0 471.2"/>
<path d="M583.0 474.3 C584.1 474.1 585.2 473.9 586.3 473.7 C588.6 473.1 590.8 472.6 593.0 472.0 C594.9 471.5 596.9 470.9 598.8 470.3"/>
<path d="M607.2 472.0 C609.9 472.8 612.7 473.8 615.5 474.5 C618.3 475.2 621.1 475.6 623.8 476.2 C625.2 476.5 626.6 476.8 628.0 477.2"/>
<path d="M628.0 473.7 C630.8 474.2 633.6 474.8 636.3 475.3 C636.6 475.3 636.8 475.3 637.0 475.3"/>
<path d="M648.2 416.6 C649.8 417.8 651.5 419.0 653.2 420.3 C655.1 421.9 657.1 423.7 659.0 425.3 C660.9 427.0 662.9 428.5 664.8 430.3 C666.8 432.1 668.7 434.1 670.7 436.2 C672.3 438.0 674.0 440.3 675.7 442.0 C677.6 443.9 679.6 445.6 681.5 447.0 C683.4 448.4 685.4 449.6 687.3 450.3 C689.6 451.2 691.8 451.7 694.0 452.0 C697.3 452.4 700.7 452.3 704.0 452.4"/>
<path d="M637.0 422.4 C641.6 422.4 646.1 422.4 650.7 422.4 C654.8 422.5 659.0 422.8 663.2 422.8 C665.9 422.8 668.7 422.8 671.5 422.8 C674.3 422.6 677.1 422.1 679.8 421.6 C682.6 421.0 685.4 420.1 688.2 419.5 C690.9 418.9 693.7 418.3 696.5 417.8 C699.0 417.4 701.5 417.3 704.0 417.0"/>
<path d="M637.0 429.1 C641.6 429.2 646.1 429.1 650.7 429.3 C654.8 429.5 659.0 430.0 663.2 430.3 C667.3 430.6 671.5 431.1 675.7 431.2 C679.8 431.2 684.0 431.1 688.2 430.8 C690.9 430.5 693.7 429.9 696.5 429.5 C699.0 429.2 701.5 428.9 704.0 428.7"/>
<path d="M637.0 432.4 C641.6 432.8 646.1 433.2 650.7 433.7 C653.4 433.9 656.2 434.1 659.0 434.5 C661.8 434.9 664.6 435.3 667.3 436.2 C669.3 436.7 671.2 437.4 673.2 438.7 C674.6 439.6 675.9 441.6 677.3 442.8 C679.0 444.3 680.7 445.8 682.3 447.0 C684.0 448.2 685.7 448.9 687.3 449.9"/>
<path d="M637.0 445.8 C641.6 445.8 646.1 445.8 650.7 445.8 C653.4 445.6 656.2 445.4 659.0 444.9 C661.8 444.4 664.6 443.7 667.3 442.8 C669.6 442.2 671.8 441.4 674.0 440.3 C675.9 439.4 677.9 438.0 679.8 437.0 C682.6 435.5 685.4 433.8 688.2 432.8 C690.9 431.9 693.7 431.5 696.5 431.2 C699.0 430.8 701.5 430.9 704.0 430.8"/>
<path d="M637.0 454.1 C640.2 453.7 643.3 453.3 646.5 452.8 C650.7 452.3 654.8 451.5 659.0 451.2 C663.2 450.8 667.3 450.8 671.5 450.8 C675.7 450.8 679.8 450.9 684.0 451.2 C686.8 451.3 689.6 451.8 692.3 452.0 C696.2 452.3 700.1 452.6 704.0 452.8"/>
<path d="M637.0 464.1 C638.8 463.7 640.6 463.4 642.3 462.8 C645.1 461.9 647.9 461.0 650.7 459.5 C653.4 458.0 656.2 455.8 659.0 453.7 C661.8 451.6 664.6 449.1 667.3 447.0 C670.1 444.9 672.9 443.0 675.7 441.2 C678.4 439.3 681.2 437.2 684.0 435.8 C686.8 434.3 689.6 433.2 692.3 432.4 C696.2 431.4 700.1 431.0 704.0 430.3"/>
<path d="M646.5 453.7 C650.7 455.3 654.8 457.2 659.0 458.7 C661.8 459.7 664.6 460.5 667.3 461.2 C670.1 461.8 672.9 462.2 675.7 462.4 C679.8 462.8 684.0 462.7 688.2 462.8 C693.4 462.9 698.7 462.9 704.0 463.0"/>
<path d="M637.0 466.6 C641.6 466.3 646.1 466.1 650.7 465.8 C656.2 465.4 661.8 464.8 667.3 464.5 C672.9 464.2 678.4 464.2 684.0 464.1 C690.7 463.9 697.3 463.8 704.0 463.7"/>
<path d="M637.0 471.2 C640.2 471.2 643.3 471.2 646.5 471.2 C649.3 471.0 652.1 470.8 654.8 470.3 C657.6 469.9 660.4 469.2 663.2 468.7 C665.9 468.2 668.7 467.7 671.5 467.4 C675.7 467.0 679.8 466.7 684.0 466.6 C690.7 466.3 697.3 466.3 704.0 466.2"/>
<path d="M637.0 474.8 C638.8 475.0 640.6 475.3 642.3 475.3 C645.1 475.3 647.9 475.1 650.7 474.5 C653.4 473.9 656.2 472.8 659.0 472.0 C661.8 471.2 664.6 470.3 667.3 469.5"/>
<path d="M650.7 477.2 C656.2 476.6 661.8 475.8 667.3 475.3 C672.9 474.9 678.4 474.8 684.0 474.5 C690.7 474.2 697.3 473.9 704.0 473.7"/>
<path d="M583.0 474.1 C584.7 474.5 586.3 474.6 588.0 475.3 C590.2 476.4 592.4 478.0 594.7 479.5 C596.9 481.0 599.1 482.9 601.3 484.5 C603.0 485.7 604.7 486.6 606.3 487.8 C608.0 489.1 609.7 490.5 611.3 492.0 C613.0 493.5 614.7 495.3 616.3 497.0 C618.0 498.7 619.7 500.5 621.3 502.0 C623.0 503.5 624.7 505.1 626.3 506.2 C628.0 507.3 629.7 508.2 631.3 508.7 C633.2 509.2 635.1 509.1 637.0 509.4"/>
<path d="M583.0 494.7 C585.5 494.2 588.0 494.1 590.5 493.2 C593.3 492.3 596.1 490.7 598.8 489.5 C601.1 488.5 603.3 487.5 605.5 486.6 C607.4 485.8 609.4 485.3 611.3 484.5 C613.6 483.5 615.8 482.1 618.0 481.2 C620.2 480.3 622.4 479.6 624.7 479.1 C627.2 478.5 629.7 478.2 632.2 477.8 C633.8 477.6 635.4 477.4 637.0 477.2"/>
<path d="M583.0 495.3 C585.5 495.1 588.0 495.1 590.5 494.5 C592.7 494.0 594.9 493.0 597.2 492.0 C599.1 491.1 601.1 489.7 603.0 488.7 C604.1 488.1 605.2 487.2 606.3 487.0 C609.4 486.4 612.4 486.2 615.5 486.2 C617.4 486.4 619.4 487.4 621.3 488.7 C623.6 490.1 625.8 492.7 628.0 494.5 C630.2 496.3 632.4 498.2 634.7 499.5 C635.4 499.9 636.2 499.8 637.0 499.9"/>
<path d="M583.0 509.1 C584.1 508.4 585.2 507.4 586.3 507.0 C588.0 506.3 589.7 505.9 591.3 505.8 C593.8 505.8 596.3 505.8 598.8 506.2 C601.6 506.6 604.4 507.6 607.2 508.2 C609.9 508.9 612.7 509.9 615.5 510.3 C617.4 510.3 619.4 510.3 621.3 510.3 C623.0 509.9 624.7 508.9 626.3 507.8 C628.0 506.8 629.7 505.4 631.3 504.1 C633.0 502.8 634.7 501.5 636.3 500.2"/>
<path d="M583.0 509.5 C584.7 510.6 586.3 511.9 588.0 512.8 C590.2 514.1 592.4 515.4 594.7 516.2 C597.4 517.1 600.2 517.8 603.0 517.8 C605.8 517.8 608.6 517.4 611.3 516.6 C613.6 516.0 615.8 514.7 618.0 513.7 C619.7 512.9 621.3 511.6 623.0 511.2 C624.7 511.2 626.3 511.2 628.0 511.2 C631.0 511.2 634.0 511.3 637.0 511.3"/>
<path d="M601.3 472.0 C603.3 473.1 605.2 474.2 607.2 475.3 C609.1 476.4 611.1 477.8 613.0 478.7 C614.7 479.4 616.3 480.0 618.0 480.3 C621.3 481.0 624.7 481.2 628.0 481.6 C631.0 481.9 634.0 482.1 637.0 482.3"/>
<path d="M607.2 472.0 C609.1 472.8 611.1 473.9 613.0 474.5 C615.2 475.2 617.4 475.8 619.7 476.2 C622.4 476.6 625.2 476.9 628.0 477.0 C631.0 477.0 634.0 477.0 637.0 477.0"/>
<path d="M614.7 472.0 C616.9 472.7 619.1 473.7 621.3 474.1 C624.9 474.7 628.6 474.7 632.2 474.9 C633.8 474.9 635.4 474.9 637.0 474.9"/>
<path d="M637.0 499.9 C640.2 499.6 643.3 499.2 646.5 499.1 C650.7 499.1 654.8 499.1 659.0 499.1 C663.2 499.0 667.3 499.1 671.5 498.7 C674.3 498.3 677.1 497.5 679.8 496.6 C682.6 495.7 685.4 494.2 688.2 493.2 C690.9 492.3 693.7 491.3 696.5 490.8 C699.0 490.2 701.5 490.2 704.0 489.9"/>
<path d="M637.0 474.8 C638.8 475.0 640.6 475.1 642.3 475.3 C646.5 475.8 650.7 476.7 654.8 477.0 C659.0 477.0 663.2 477.0 667.3 477.0 C671.5 476.8 675.7 476.2 679.8 475.8 C684.0 475.3 688.2 474.8 692.3 474.5 C696.2 474.2 700.1 474.2 704.0 474.1"/>
<path d="M637.0 482.4 C641.6 482.4 646.1 482.4 650.7 482.4 C654.8 482.4 659.0 482.4 663.2 482.4 C665.9 482.4 668.7 482.4 671.5 482.4 C674.3 482.6 677.1 482.9 679.8 483.2 C682.6 483.6 685.4 484.0 688.2 484.5 C690.9 485.0 693.7 485.7 696.5 486.2 C699.0 486.6 701.5 486.7 704.0 487.0"/>
<path d="M637.0 476.3 C640.2 476.4 643.3 476.3 646.5 476.6 C650.7 477.0 654.8 477.3 659.0 478.2 C661.8 478.9 664.6 479.9 667.3 481.2 C669.6 482.2 671.8 484.2 674.0 485.3 C676.2 486.4 678.4 487.2 680.7 487.8 C683.2 488.5 685.7 488.8 688.2 489.1 C690.9 489.4 693.7 489.4 696.5 489.5 C699.0 489.5 701.5 489.5 704.0 489.5"/>
<path d="M650.7 474.5 L657.3 471.6"/>
<path d="M120.0 558.3 C121.6 554.2 123.1 549.7 124.7 546.0 C126.9 540.7 129.1 535.9 131.3 531.3 C133.6 526.8 135.8 522.5 138.0 518.7 C139.8 515.6 141.6 512.9 143.3 510.7 C144.2 509.6 145.1 509.1 146.0 508.7 C146.9 508.3 147.8 508.3 148.7 508.3 C150.0 508.6 151.3 509.3 152.7 510.0 C154.4 510.9 156.2 511.9 158.0 513.0 C160.2 514.4 162.4 515.9 164.7 517.3 C166.4 518.5 168.2 520.0 170.0 521.0 C171.3 521.7 172.7 521.9 174.0 522.3"/>
<path d="M120.0 558.3 C124.2 554.2 128.4 550.3 132.7 546.0 C135.1 543.5 137.6 540.6 140.0 538.0 C142.7 535.2 145.3 532.7 148.0 530.0 C150.4 527.6 152.9 525.1 155.3 522.7 C158.0 520.0 160.7 517.3 163.3 514.7 C165.6 512.4 167.8 510.2 170.0 508.0 C171.3 506.7 172.7 505.6 174.0 504.3"/>
<path d="M120.0 558.3 C127.6 554.2 135.1 550.7 142.7 546.0 C145.6 544.2 148.4 541.1 151.3 538.7 C154.0 536.4 156.7 534.1 159.3 532.0 C161.6 530.3 163.8 528.8 166.0 527.3 C167.8 526.1 169.6 525.0 171.3 524.0 C172.2 523.5 173.1 523.3 174.0 523.0"/>
<path d="M391.0 470.8 C393.4 470.7 395.9 470.8 398.3 470.4 C401.1 470.0 403.9 469.3 406.7 468.3 C410.8 466.9 415.0 465.0 419.2 463.3 C423.3 461.7 427.5 459.9 431.7 458.3 C435.0 457.1 438.3 456.2 441.7 455.0 C442.8 454.6 443.9 453.9 445.0 453.3"/>
<path d="M391.0 472.9 C394.3 472.9 397.6 472.9 400.8 472.9 C403.3 473.3 405.8 475.1 408.3 475.8 C410.6 476.4 412.8 476.8 415.0 476.8 C416.9 476.8 418.9 476.3 420.8 475.4 C423.1 474.4 425.3 472.6 427.5 471.2 C430.0 469.7 432.5 467.8 435.0 466.7 C437.2 465.6 439.4 465.1 441.7 464.6 C442.8 464.4 443.9 464.5 445.0 464.4"/>
<path d="M391.0 474.7 C393.4 474.9 395.9 474.9 398.3 475.4 C401.1 476.0 403.9 477.3 406.7 477.9 C408.9 478.4 411.1 478.8 413.3 478.8 C415.3 478.7 417.2 478.2 419.2 477.5 C421.1 476.8 423.1 475.8 425.0 474.6 C426.7 473.6 428.3 472.1 430.0 470.8"/>
<path d="M409.2 460.0 C411.9 461.1 414.7 462.1 417.5 463.3 C420.3 464.6 423.1 466.1 425.8 467.5 C428.3 468.8 430.8 470.1 433.3 471.2 C435.6 472.3 437.8 473.4 440.0 474.2 C441.7 474.8 443.3 475.0 445.0 475.4"/>
<path d="M391.0 491.5 C393.4 491.0 395.9 490.7 398.3 490.0 C401.1 489.1 403.9 487.6 406.7 486.7 C409.4 485.8 412.2 485.2 415.0 484.6 C417.8 484.0 420.6 483.7 423.3 482.9 C426.1 482.2 428.9 481.0 431.7 480.0 C434.4 479.0 437.2 477.6 440.0 476.7 C441.7 476.1 443.3 475.8 445.0 475.4"/>
<path d="M391.0 496.5 C392.3 496.3 393.7 496.4 395.0 495.8 C397.5 494.8 400.0 493.0 402.5 491.7 C405.3 490.2 408.1 488.8 410.8 487.5 C412.2 486.9 413.6 486.1 415.0 485.8 C416.4 485.8 417.8 485.8 419.2 485.8 C421.1 486.5 423.1 488.0 425.0 489.2 C427.2 490.5 429.4 492.0 431.7 493.3 C433.9 494.7 436.1 496.1 438.3 497.1 C440.0 497.9 441.7 498.3 443.3 498.8 C443.9 498.8 444.4 498.8 445.0 498.8"/>
<path d="M391.0 499.3 C392.6 499.5 394.2 500.0 395.8 500.0 C397.5 499.6 399.2 497.9 400.8 496.7 C402.8 495.2 404.7 492.9 406.7 492.1 C409.4 490.9 412.2 490.6 415.0 490.4 C417.2 490.4 419.4 490.4 421.7 490.8 C423.6 491.4 425.6 493.0 427.5 494.2 C430.0 495.7 432.5 497.7 435.0 499.2 C437.2 500.5 439.4 501.4 441.7 502.5 C442.8 503.1 443.9 503.6 445.0 504.2"/>
<path d="M391.0 497.2 C392.6 498.2 394.2 498.9 395.8 500.0 C398.1 501.5 400.3 503.4 402.5 505.0 C404.4 506.4 406.4 508.1 408.3 509.2 C410.6 510.4 412.8 511.1 415.0 511.7 C417.8 512.4 420.6 512.8 423.3 512.9 C426.1 512.9 428.9 512.9 431.7 512.5 C433.9 512.1 436.1 511.3 438.3 510.0 C440.0 509.0 441.7 507.2 443.3 505.8 C443.9 505.4 444.4 505.0 445.0 504.6"/>
<path d="M391.0 510.0 C394.8 510.0 398.7 510.0 402.5 510.0 C405.3 509.9 408.1 509.7 410.8 509.2 C413.6 508.7 416.4 507.8 419.2 507.1 C421.9 506.3 424.7 505.4 427.5 504.6 C430.3 503.8 433.1 503.0 435.8 502.1 C437.8 501.5 439.7 500.7 441.7 500.0 C442.8 499.6 443.9 499.2 445.0 498.8"/>
<path d="M391.0 458.8 C394.8 458.9 398.7 459.2 402.5 459.2 C405.3 459.0 408.1 458.0 410.8 457.5 C413.6 457.0 416.4 456.2 419.2 456.2 C421.9 456.2 424.7 456.8 427.5 457.5 C430.3 458.2 433.1 459.7 435.8 460.4 C438.6 461.2 441.4 461.6 444.2 462.1 C444.4 462.1 444.7 462.1 445.0 462.1"/>
<path d="M391.0 462.0 C393.4 461.9 395.9 461.9 398.3 461.7 C401.1 461.5 403.9 461.3 406.7 460.8 C407.5 460.7 408.3 460.3 409.2 460.0"/>
</g>
<path d="M121 558.5 H704" stroke="#0000ff" stroke-width="1.4" stroke-dasharray="1.25 1.6" fill="none" clip-path="url(#c1)"/>
<g clip-path="url(#c2)" fill="none" stroke-linejoin="round">
<path d="M720.0 148.0 L720.0 355.0 L721.0 355.0 L726.0 356.9 L759.1 362.5 L741.0 367.5 L747.2 374.4 L746.0 375.0 L733.5 380.0 L728.5 385.0 L726.0 400.0 L727.2 412.5 L728.5 425.0 L741.0 430.0 L744.8 432.5 L742.2 435.0 L749.1 436.9 L742.7 440.8 L761.8 446.7 L743.5 449.2 L746.0 453.3 L736.8 455.8 L732.7 460.8 L735.2 465.0 L732.7 469.2 L756.0 472.9 L743.5 475.0 L756.4 477.1 L742.7 480.8 L743.5 481.7 L736.8 483.3 L729.3 486.2 L724.3 490.0 L724.3 490.0 L722.7 498.3 L721.8 504.2 L723.5 510.8 L721.8 517.5 L721.4 523.3 L720.0 531.7 L720.0 579.0" stroke="#1f77b4" stroke-width="2.6"/>
<path d="M720.0 148.0 L720.0 216.0 L720.0 216.8 L721.6 219.5 L722.2 224.5 L729.8 228.9 L727.2 232.0 L723.5 237.0 L723.5 242.0 L728.5 245.1 L747.2 248.2 L748.5 249.5 L774.8 251.8 L732.2 254.5 L739.1 255.8 L738.5 257.2 L731.0 260.8 L741.0 264.5 L734.8 267.0 L733.5 270.8 L723.5 273.2 L721.0 277.0 L721.0 292.0 L723.5 297.0 L732.2 300.0 L724.8 301.9 L724.1 305.0 L727.2 313.8 L723.5 315.6 L721.0 317.5 L721.0 385.0 L721.0 375.0 L723.5 387.5 L723.5 406.2 L731.0 411.2 L739.8 418.8 L732.2 427.5 L728.5 435.0 L729.8 440.0 L727.7 442.5 L731.8 446.7 L728.5 450.0 L735.2 453.3 L733.5 456.7 L748.5 463.3 L728.5 468.3 L730.2 470.0 L724.3 475.8 L722.7 481.7 L721.8 490.0 L721.0 490.0 L721.0 506.7 L722.7 510.8 L721.0 517.5 L720.0 527.5 L720.0 579.0" stroke="#ff7f0e" stroke-width="2.6"/>
<path d="M720.0 148.0 L720.0 167.0 L720.0 167.1 L741.0 169.6 L759.3 171.2 L760.2 172.5 L756.8 173.8 L756.8 175.0 L773.5 176.7 L753.5 178.8 L732.7 180.4 L720.0 181.8 L720.0 216.8 L723.5 219.5 L723.5 224.5 L724.8 230.8 L727.2 235.1 L762.2 239.8 L727.2 242.0 L723.5 247.0 L726.0 252.0 L723.5 257.0 L722.2 268.2 L723.5 277.0 L727.2 282.0 L744.8 287.0 L776.0 289.8 L746.0 295.1 L757.2 299.5 L804.1 301.0 L756.0 302.2 L728.5 303.5 L724.1 307.5 L722.2 315.0 L721.0 317.5 L721.0 328.8 L722.2 330.0 L727.9 333.8 L722.2 336.9 L721.0 338.1 L721.0 350.0 L726.6 351.2 L724.8 356.2 L723.5 365.0 L723.5 385.0 L723.5 375.0 L723.5 398.8 L724.8 412.5 L723.5 426.2 L724.8 437.5 L721.8 440.0 L723.5 445.0 L722.7 450.8 L724.3 456.7 L726.8 462.9 L723.5 464.2 L722.7 469.2 L724.3 475.0 L721.8 480.8 L721.0 483.3 L720.6 490.0 L720.6 490.0 L721.0 498.3 L721.0 510.8 L721.8 517.5 L720.6 527.5 L720.0 540.0 L720.0 579.0" stroke="#2ca02c" stroke-width="2.6"/>
<path d="M720.0 148.0 L720.0 167.0 L720.0 167.1 L728.5 169.6 L741.0 171.2 L741.0 172.9 L740.2 174.6 L753.5 176.7 L741.0 178.3 L728.5 180.0 L720.0 181.5 L720.0 216.8 L721.6 219.5 L722.2 227.0 L724.8 238.2 L721.6 243.2 L722.2 249.5 L721.6 253.2 L721.0 262.0 L721.0 299.5 L721.0 295.0 L721.0 327.5 L722.2 328.8 L724.8 333.1 L722.2 336.9 L721.0 338.1 L721.0 355.0 L724.8 356.2 L736.0 362.5 L726.6 370.0 L727.9 376.2 L726.0 381.2 L726.0 385.0 L726.0 375.0 L727.2 387.5 L724.8 400.0 L734.8 406.2 L741.0 415.0 L732.2 423.8 L734.8 431.2 L733.5 437.5 L736.8 441.7 L752.7 447.1 L741.8 449.6 L762.7 454.2 L751.8 456.2 L754.3 458.8 L741.0 460.8 L742.7 466.7 L736.0 473.3 L736.8 478.3 L732.7 480.0 L736.8 482.5 L728.5 485.8 L727.7 490.0 L727.7 490.0 L736.8 495.8 L726.8 500.0 L726.8 505.0 L730.6 510.0 L726.0 517.5 L723.5 523.3 L721.0 531.7 L720.0 540.0 L720.0 579.0" stroke="#d62728" stroke-width="2.6"/>
<path d="M720.0 148.0 L720.0 216.0 L720.0 216.8 L723.5 220.8 L726.0 225.8 L736.0 227.6 L727.2 229.5 L723.5 233.2 L728.5 237.0 L756.0 238.9 L723.5 244.5 L727.2 249.5 L746.0 252.0 L733.5 255.1 L726.0 259.5 L732.2 262.0 L746.0 268.9 L723.5 274.5 L722.2 282.0 L726.0 289.5 L723.5 294.5 L738.5 298.2 L756.0 301.4 L756.0 301.0 L741.0 302.5 L741.0 306.2 L734.8 311.9 L741.0 313.8 L723.5 316.9 L721.0 317.5 L721.0 325.6 L722.2 326.2 L736.0 333.1 L722.2 337.5 L721.0 338.8 L721.0 375.0 L729.8 377.5 L732.2 381.2 L731.0 385.0 L727.2 381.2 L729.8 398.8 L726.0 406.2 L731.0 421.2 L726.0 427.5 L727.2 435.0 L726.0 440.0 L725.2 441.7 L728.5 446.7 L726.0 450.8 L729.3 454.2 L727.7 459.2 L726.8 464.2 L725.2 467.5 L730.2 472.5 L723.5 479.2 L724.3 486.7 L723.5 491.7 L722.7 490.0 L725.2 494.2 L721.8 500.0 L723.5 510.8 L721.8 517.5 L720.6 527.5 L720.0 540.0 L720.0 579.0" stroke="#9467bd" stroke-width="2.6"/>
<path d="M720.0 148.0 L720.0 167.0 L720.0 167.1 L721.0 175.0 L722.7 175.8 L725.2 176.7 L724.8 178.8 L722.7 180.4 L720.0 181.5 L720.0 216.8 L752.2 218.9 L737.2 220.8 L727.2 223.9 L723.5 228.2 L723.5 237.0 L727.2 242.0 L743.5 245.1 L783.5 247.0 L766.0 248.9 L793.5 251.8 L751.0 254.5 L758.5 256.4 L732.2 261.4 L757.2 263.5 L742.2 265.8 L749.1 269.8 L733.5 273.2 L734.8 275.8 L723.5 279.5 L727.2 284.5 L733.5 289.5 L723.5 294.5 L729.8 298.2 L749.8 301.4 L749.8 301.0 L733.5 303.1 L739.8 304.4 L738.5 311.2 L753.5 315.0 L721.0 317.5 L721.0 324.8 L753.5 327.8 L754.8 329.4 L852.2 333.5 L776.0 336.2 L721.0 338.8 L721.0 347.5 L722.2 357.5 L725.4 372.5 L732.2 376.2 L733.5 382.5 L744.8 386.2 L727.2 395.0 L744.8 400.0 L726.0 404.4 L741.0 407.5 L731.0 411.2 L738.5 417.5 L746.6 421.2 L731.0 423.8 L746.0 426.2 L732.2 428.8 L741.0 430.6 L734.8 435.0 L739.8 438.8 L731.0 441.7 L736.8 446.7 L731.8 449.2 L737.7 454.2 L731.8 457.5 L741.0 463.3 L730.2 467.5 L741.0 472.5 L732.7 475.8 L728.5 480.0 L731.0 483.3 L727.7 486.7 L728.5 490.8 L728.5 490.0 L735.2 493.3 L736.8 495.8 L726.8 500.0 L728.5 504.6 L736.8 510.0 L736.0 512.5 L728.5 519.2 L727.7 522.5 L724.3 527.5 L721.8 536.7 L720.6 544.2 L720.0 548.3 L720.0 579.0" stroke="#8c564b" stroke-width="2.6"/>
<path d="M720.0 148.0 L720.0 167.0 L720.0 167.1 L723.5 170.8 L723.9 175.0 L722.7 179.2 L720.2 181.5 L720.0 216.8 L736.0 218.9 L728.5 222.0 L732.2 224.5 L771.6 228.2 L729.8 233.0 L729.8 235.1 L825.4 240.5 L728.5 244.8 L741.0 247.6 L724.8 252.0 L723.5 255.8 L722.9 262.0 L721.6 268.2 L721.0 274.5 L721.0 299.5 L721.0 297.5 L721.0 345.0 L722.2 346.2 L725.4 350.0 L723.5 355.0 L724.1 370.0 L726.0 382.5 L723.5 375.0 L724.8 381.2 L728.5 387.5 L722.2 393.8 L729.8 400.0 L723.5 405.0 L726.0 416.2 L732.2 423.8 L727.2 425.0 L737.2 430.0 L731.0 433.8 L743.5 436.9 L732.7 440.0 L741.0 442.5 L740.2 449.2 L735.2 451.7 L742.7 455.8 L729.3 460.8 L736.8 463.3 L728.5 465.8 L750.2 472.5 L727.7 477.5 L723.5 483.3 L728.5 490.0 L725.2 490.0 L730.2 494.2 L722.7 500.0 L725.2 505.0 L728.9 510.8 L725.2 517.5 L723.5 523.3 L721.8 531.7 L720.6 543.3 L720.0 548.3 L720.0 579.0" stroke="#e377c2" stroke-width="2.6"/>
<path d="M720.0 148.0 L720.0 167.0 L720.0 167.1 L741.0 168.9 L759.3 170.4 L774.3 171.2 L786.8 171.7 L784.3 173.3 L782.7 174.8 L791.0 175.2 L813.3 176.7 L796.0 177.9 L774.3 179.3 L749.3 180.6 L724.3 181.8 L720.0 181.8 L720.0 217.0 L789.3 219.2 L753.5 222.0 L754.3 223.7 L894.2 228.7 L787.7 233.3 L792.7 235.5 L950.0 238.2 L762.7 245.0 L846.0 247.0 L816.0 249.7 L904.7 252.0 L789.3 254.7 L801.0 256.7 L751.8 261.7 L816.0 263.7 L785.2 266.3 L794.3 268.8 L760.2 273.3 L732.7 279.2 L741.0 284.2 L799.3 290.0 L760.2 294.5 L869.3 301.3 L764.3 304.2 L771.8 305.8 L756.8 313.3 L792.7 315.3 L720.0 317.5 L720.0 317.8 L720.0 324.8 L769.8 327.2 L766.0 328.5 L866.0 333.1 L720.0 339.4 L720.0 345.0 L723.5 346.2 L737.5 348.9 L746.2 350.3 L738.9 355.4 L741.8 357.6 L795.8 362.0 L763.0 369.3 L798.7 376.6 L771.0 382.4 L802.4 386.0 L776.8 390.4 L757.1 395.5 L759.3 397.7 L811.8 399.9 L756.4 404.7 L802.4 406.8 L785.6 411.6 L843.9 420.8 L787.8 423.5 L824.2 425.7 L774.6 428.3 L826.4 432.6 L810.4 435.2 L849.8 437.8 L779.8 439.9 L814.8 442.5 L851.9 447.2 L808.2 449.5 L855.6 453.9 L814.8 460.7 L849.8 463.6 L800.9 466.6 L800.9 470.2 L849.0 472.8 L811.8 476.0 L781.2 480.4 L790.0 482.2 L755.0 487.0 L765.2 489.2 L758.6 491.8 L792.1 494.7 L792.1 496.5 L741.8 501.1 L782.7 510.3 L781.9 512.5 L750.6 519.8 L737.7 526.7 L729.3 533.3 L724.3 539.2 L721.0 545.0 L720.0 548.0 L720.0 579.0" stroke="#000000" stroke-width="1.6" stroke-dasharray="1.4 1.36"/>
</g>
<rect x="120" y="148" width="584" height="431" fill="none" stroke="#000" stroke-width="2.08" stroke-linejoin="miter"/>
<rect x="720" y="148" width="144" height="431" fill="none" stroke="#000" stroke-width="2.08" stroke-linejoin="miter"/>
<g font-family="'DejaVu Sans', 'Liberation Sans', sans-serif" font-size="20.83" fill="#000">
<text x="119.0" y="601" text-anchor="middle" font-size="20.4">Γ</text>
<text x="174" y="601" text-anchor="middle">Z</text>
<text x="220" y="601" text-anchor="middle">D</text>
<text x="274" y="601" text-anchor="middle">B</text>
<text x="319.0" y="601" text-anchor="middle" font-size="20.4">Γ</text>
<text x="391" y="601" text-anchor="middle">A</text>
<text x="445" y="601" text-anchor="middle">E</text>
<text x="517" y="601" text-anchor="middle">Z</text>
<text x="583" y="602.3" text-anchor="middle" font-size="20.4">C<tspan font-size="14.28" dy="1.8">2</tspan></text>
<text x="637" y="602.3" text-anchor="middle" font-size="20.4">Y<tspan font-size="14.28" dy="1.8">2</tspan></text>
<text x="703.0" y="601" text-anchor="middle" font-size="20.4">Γ</text>
<text x="112.2" y="566.1" text-anchor="end">0</text>
<text x="112.2" y="472.2" text-anchor="end">2</text>
<text x="112.2" y="378.3" text-anchor="end">4</text>
<text x="112.2" y="284.3" text-anchor="end">6</text>
<text x="112.2" y="190.4" text-anchor="end">8</text>
<text x="720.0" y="601.4" text-anchor="middle">0</text>
<text x="814.2" y="601.4" text-anchor="middle">10</text>
<text transform="translate(86.3 363.5) rotate(-90)" text-anchor="middle">Frequency (THz)</text>
</g>
</svg>
</body></html>
